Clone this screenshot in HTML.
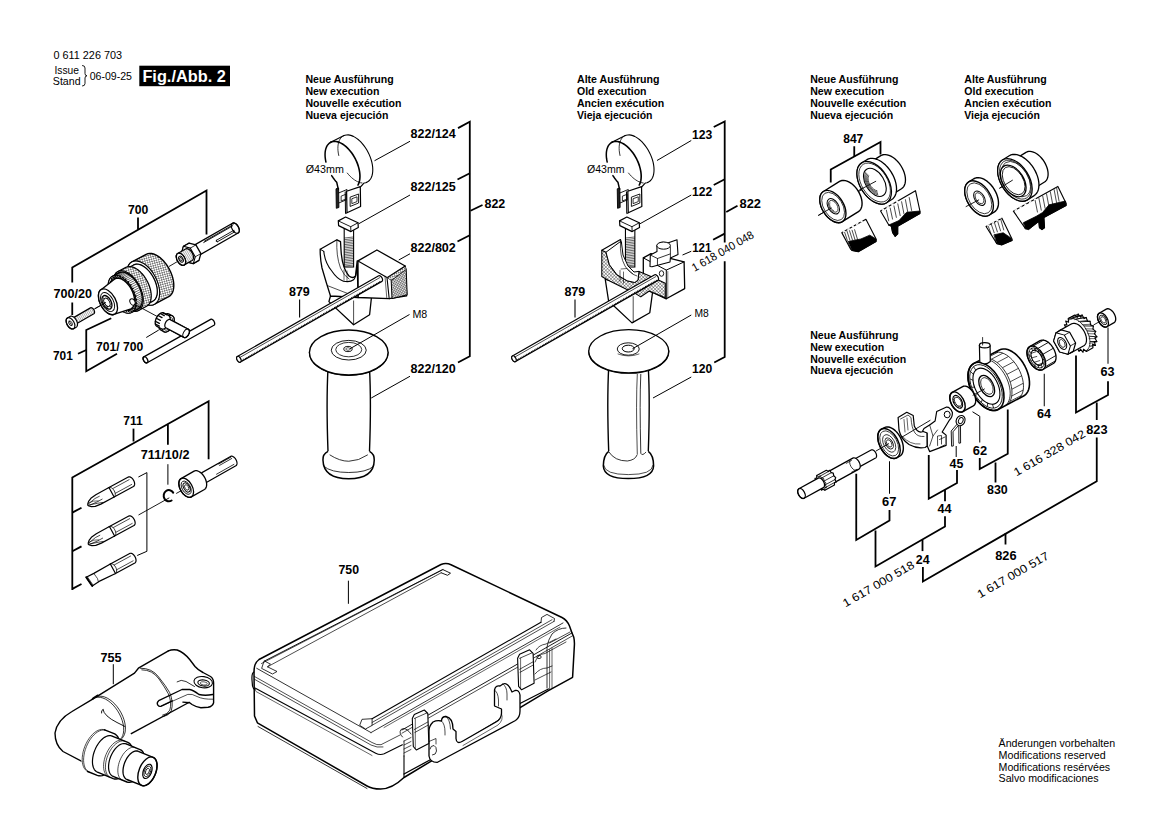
<!DOCTYPE html>
<html><head><meta charset="utf-8"><style>
html,body{margin:0;padding:0;background:#fff;}
svg{display:block;font-family:"Liberation Sans",sans-serif;}
</style></head><body>
<svg width="1168" height="826" viewBox="0 0 1168 826">
<rect width="1168" height="826" fill="#fff"/>
<defs>
<pattern id="knurl" width="3.2" height="3.2" patternUnits="userSpaceOnUse" patternTransform="rotate(30)">
<rect width="3.2" height="3.2" fill="#fff"/><path d="M0,0 L3.2,3.2 M3.2,0 L0,3.2" stroke="#000" stroke-width="0.42"/></pattern>
<pattern id="hatch" width="2.2" height="2.2" patternUnits="userSpaceOnUse" patternTransform="rotate(60)">
<rect width="2.2" height="2.2" fill="#fff"/><path d="M0,0 L0,2.2" stroke="#000" stroke-width="0.7"/></pattern>
<pattern id="xhatch" width="2.4" height="2.4" patternUnits="userSpaceOnUse" patternTransform="rotate(45)">
<rect width="2.4" height="2.4" fill="#fff"/><path d="M0,0 L0,2.4 M0,0 L2.4,0" stroke="#000" stroke-width="0.6"/></pattern>
<pattern id="thread" width="1.8" height="4" patternUnits="userSpaceOnUse" patternTransform="rotate(-30)">
<rect width="1.8" height="4" fill="#fff"/><path d="M0,0 L0,4" stroke="#000" stroke-width="0.6"/></pattern>
<pattern id="vhatch" width="2.0" height="2.0" patternUnits="userSpaceOnUse" patternTransform="rotate(30)"><rect width="2.0" height="2.0" fill="#fff"/><path d="M0,0 L0,2 M0,0 L2,0" stroke="#000" stroke-width="0.75"/></pattern>
</defs>
<path d="M74.37,324.99 L74.13,325.1 L73.87,325.15 L73.58,325.15 L73.28,325.09 L72.97,324.99 L72.66,324.83 L72.35,324.62 L72.04,324.38 L71.74,324.09 L71.46,323.76 L71.19,323.41 L70.96,323.04 L70.75,322.64 L70.58,322.24 L70.44,321.83 L70.34,321.43 L70.28,321.04 L70.26,320.67 L70.28,320.31 L70.34,319.99 L70.44,319.71 L70.58,319.46 L70.76,319.26 L70.97,319.11 L90.45,307.86 L90.69,307.75 L90.95,307.7 L91.23,307.7 L91.53,307.76 L91.84,307.86 L92.16,308.02 L92.47,308.23 L92.78,308.47 L93.08,308.76 L93.36,309.09 L93.62,309.44 L93.86,309.81 L94.07,310.21 L94.24,310.61 L94.38,311.02 L94.48,311.42 L94.54,311.81 L94.56,312.18 L94.54,312.54 L94.48,312.86 L94.37,313.14 L94.23,313.39 L94.06,313.59 L93.85,313.74 Z" fill="url(#thread)" stroke="#000" stroke-width="1.2" stroke-linejoin="round"/>
<path d="M73.6,328.67 L73.17,328.86 L72.69,328.95 L72.17,328.95 L71.63,328.85 L71.06,328.65 L70.49,328.37 L69.92,328.0 L69.35,327.54 L68.81,327.02 L68.29,326.43 L67.82,325.78 L67.39,325.1 L67.01,324.38 L66.69,323.65 L66.44,322.91 L66.25,322.17 L66.14,321.46 L66.11,320.77 L66.14,320.13 L66.26,319.55 L66.44,319.03 L66.7,318.58 L67.02,318.21 L67.4,317.93 L70.0,316.43 L70.43,316.24 L70.91,316.15 L71.43,316.15 L71.97,316.25 L72.53,316.45 L73.11,316.73 L73.68,317.1 L74.25,317.56 L74.79,318.08 L75.3,318.67 L75.78,319.32 L76.21,320.0 L76.59,320.72 L76.91,321.45 L77.16,322.19 L77.35,322.93 L77.46,323.64 L77.49,324.33 L77.45,324.97 L77.34,325.55 L77.15,326.07 L76.9,326.52 L76.58,326.89 L76.2,327.17 Z" fill="#fff" stroke="#000" stroke-width="1.2" stroke-linejoin="round"/>
<ellipse cx="70.5" cy="323.3" rx="3.6" ry="6.2" transform="rotate(-30 70.5 323.3)" fill="none" stroke="#000" stroke-width="1.2" />
<ellipse cx="70.5" cy="323.3" rx="1.51" ry="2.6" transform="rotate(-30 70.5 323.3)" fill="none" stroke="#000" stroke-width="0.8" />
<path d="M71.8,325.55 L69.2,321.05" stroke="#000" stroke-width="0.8" fill="none" stroke-linecap="round"/>
<path d="M94.5,308.9 L105,303" fill="none" stroke="#000" stroke-width="0.9" stroke-linejoin="miter" stroke-linecap="butt"/>
<path d="M154.59,304.21 L152.94,304.85 L151.13,305.12 L149.19,305.01 L147.14,304.53 L145.03,303.67 L142.89,302.47 L140.76,300.93 L138.67,299.08 L136.67,296.96 L134.77,294.6 L133.02,292.04 L131.45,289.33 L130.08,286.51 L128.94,283.63 L128.04,280.74 L127.41,277.89 L127.04,275.13 L126.96,272.5 L127.15,270.05 L127.63,267.82 L128.37,265.86 L129.36,264.19 L130.6,262.84 L132.05,261.83 L146.18,254.32 L147.82,253.68 L149.63,253.41 L151.58,253.52 L153.62,254.0 L155.73,254.86 L157.87,256.06 L160.0,257.6 L162.09,259.45 L164.1,261.57 L165.99,263.93 L167.74,266.49 L169.31,269.2 L170.68,272.02 L171.82,274.9 L172.72,277.79 L173.36,280.64 L173.72,283.4 L173.8,286.03 L173.61,288.48 L173.14,290.71 L172.4,292.67 L171.4,294.35 L170.16,295.7 L168.71,296.7 Z" fill="url(#knurl)" stroke="#000" stroke-width="1.4" stroke-linejoin="round"/>
<ellipse cx="143.32" cy="283.02" rx="13.44" ry="24" transform="rotate(-28 143.32 283.02)" fill="#fff" stroke="#000" stroke-width="1.1" />
<ellipse cx="143.32" cy="283.02" rx="11.48" ry="20.5" transform="rotate(-28 143.32 283.02)" fill="#fff" stroke="#000" stroke-width="0.8" />
<path d="M145.0,305.35 L143.59,305.9 L142.04,306.12 L140.38,306.03 L138.64,305.62 L136.84,304.89 L135.01,303.86 L133.19,302.54 L131.41,300.96 L129.69,299.15 L128.07,297.14 L126.58,294.95 L125.24,292.64 L124.07,290.23 L123.09,287.77 L122.32,285.3 L121.78,282.86 L121.47,280.5 L121.4,278.26 L121.57,276.17 L121.97,274.27 L122.6,272.59 L123.45,271.16 L124.51,270.0 L125.75,269.15 L133.69,264.92 L135.1,264.37 L136.65,264.14 L138.31,264.24 L140.05,264.65 L141.85,265.38 L143.68,266.41 L145.5,267.73 L147.28,269.3 L149.0,271.12 L150.62,273.13 L152.11,275.32 L153.45,277.63 L154.62,280.04 L155.6,282.5 L156.37,284.97 L156.91,287.4 L157.22,289.76 L157.29,292.01 L157.12,294.1 L156.72,296.0 L156.09,297.68 L155.24,299.11 L154.18,300.26 L152.94,301.12 Z" fill="#fff" stroke="#000" stroke-width="1.2" stroke-linejoin="round"/>
<path d="M138.64,310.43 L137.13,311.02 L135.47,311.26 L133.69,311.16 L131.81,310.72 L129.88,309.93 L127.92,308.83 L125.97,307.42 L124.05,305.72 L122.21,303.78 L120.47,301.62 L118.87,299.27 L117.43,296.79 L116.17,294.2 L115.13,291.56 L114.31,288.91 L113.72,286.3 L113.39,283.77 L113.31,281.36 L113.49,279.11 L113.92,277.07 L114.6,275.27 L115.52,273.74 L116.65,272.5 L117.98,271.58 L125.93,267.35 L127.43,266.76 L129.09,266.52 L130.87,266.62 L132.75,267.06 L134.68,267.85 L136.64,268.95 L138.6,270.36 L140.51,272.06 L142.35,274.0 L144.09,276.16 L145.69,278.51 L147.13,280.99 L148.39,283.58 L149.43,286.22 L150.26,288.87 L150.84,291.48 L151.17,294.01 L151.25,296.42 L151.07,298.67 L150.64,300.71 L149.96,302.51 L149.05,304.04 L147.91,305.28 L146.58,306.2 Z" fill="url(#knurl)" stroke="#000" stroke-width="1.2" stroke-linejoin="round"/>
<ellipse cx="128.31" cy="291.0" rx="12.32" ry="22" transform="rotate(-28 128.31 291.0)" fill="url(#knurl)" stroke="#000" stroke-width="1.1" />
<path d="M131.75,312.39 L130.35,312.94 L128.8,313.17 L127.14,313.07 L125.39,312.66 L123.59,311.93 L121.77,310.9 L119.94,309.58 L118.16,308.01 L116.45,306.19 L114.83,304.18 L113.33,301.99 L111.99,299.68 L110.82,297.27 L109.85,294.81 L109.08,292.34 L108.54,289.91 L108.23,287.55 L108.15,285.3 L108.32,283.21 L108.72,281.31 L109.36,279.63 L110.21,278.2 L111.26,277.05 L112.5,276.19 L118.68,272.9 L120.09,272.35 L121.64,272.12 L123.3,272.22 L125.04,272.63 L126.84,273.36 L128.67,274.39 L130.49,275.71 L132.27,277.28 L133.99,279.1 L135.61,281.11 L137.1,283.3 L138.44,285.61 L139.61,288.02 L140.59,290.48 L141.36,292.95 L141.9,295.38 L142.21,297.75 L142.28,299.99 L142.11,302.08 L141.71,303.98 L141.08,305.66 L140.23,307.09 L139.17,308.24 L137.93,309.1 Z" fill="#fff" stroke="#000" stroke-width="1.2" stroke-linejoin="round"/>
<ellipse cx="122.13" cy="294.29" rx="11.48" ry="20.5" transform="rotate(-28 122.13 294.29)" fill="#fff" stroke="#000" stroke-width="1.0" />
<path d="M130.01,309.12 L133.93,310.77 L131.57,307.88 L135.56,308.91 L132.71,306.04 L136.66,306.37 L133.39,303.69 L137.18,303.29 L133.58,300.93 L137.11,299.77 L133.26,297.88 L136.43,295.99 L132.46,294.67 L135.19,292.1 L131.21,291.45 L133.44,288.27 L129.56,288.35 L131.25,284.68 L127.59,285.5 L128.72,281.48 L125.38,283.05 L125.96,278.8 L123.02,281.08 L123.09,276.78 L120.63,279.69 L120.23,275.48 L118.3,278.94 L117.52,274.98 L116.14,278.86 L115.06,275.29 L114.24,279.45 L112.98,276.4 L112.69,280.7 L111.35,278.26 L111.54,282.53 L110.24,280.79 L110.86,284.88 L109.72,283.88 L110.68,287.65 L109.8,287.4 L110.99,290.7 L110.47,291.18 L111.79,293.91 L111.71,295.07 L113.04,297.13 L113.46,298.89 L114.69,300.23 L115.65,302.49 L116.66,303.07 L118.18,305.69 L118.88,305.53 L120.95,308.36 L121.23,307.5 L123.82,310.39 L123.63,308.89 L126.67,311.69 L125.95,309.64 L129.38,312.19 L128.11,309.72 L131.84,311.88 L130.01,309.12" stroke="#000" stroke-width="1.0" fill="none" stroke-linejoin="round" stroke-linecap="round"/>
<path d="M112.94,275.95 L118.68,272.9" stroke="#000" stroke-width="0.6" fill="none" stroke-linecap="round"/>
<path d="M114.06,275.49 L119.8,272.44" stroke="#000" stroke-width="0.6" fill="none" stroke-linecap="round"/>
<path d="M115.26,275.23 L121.0,272.18" stroke="#000" stroke-width="0.6" fill="none" stroke-linecap="round"/>
<path d="M116.55,275.17 L122.29,272.12" stroke="#000" stroke-width="0.6" fill="none" stroke-linecap="round"/>
<path d="M117.9,275.33 L123.64,272.27" stroke="#000" stroke-width="0.6" fill="none" stroke-linecap="round"/>
<path d="M119.3,275.68 L125.04,272.63" stroke="#000" stroke-width="0.6" fill="none" stroke-linecap="round"/>
<path d="M120.74,276.24 L126.48,273.19" stroke="#000" stroke-width="0.6" fill="none" stroke-linecap="round"/>
<path d="M122.2,277.0 L127.94,273.94" stroke="#000" stroke-width="0.6" fill="none" stroke-linecap="round"/>
<path d="M123.66,277.94 L129.4,274.89" stroke="#000" stroke-width="0.6" fill="none" stroke-linecap="round"/>
<path d="M125.11,279.05 L130.85,276.0" stroke="#000" stroke-width="0.6" fill="none" stroke-linecap="round"/>
<path d="M126.53,280.34 L132.27,277.28" stroke="#000" stroke-width="0.6" fill="none" stroke-linecap="round"/>
<path d="M127.91,281.77 L133.65,278.72" stroke="#000" stroke-width="0.6" fill="none" stroke-linecap="round"/>
<path d="M129.23,283.33 L134.97,280.28" stroke="#000" stroke-width="0.6" fill="none" stroke-linecap="round"/>
<path d="M130.48,285.02 L136.22,281.97" stroke="#000" stroke-width="0.6" fill="none" stroke-linecap="round"/>
<path d="M131.64,286.8 L137.38,283.75" stroke="#000" stroke-width="0.6" fill="none" stroke-linecap="round"/>
<path d="M132.7,288.66 L138.44,285.61" stroke="#000" stroke-width="0.6" fill="none" stroke-linecap="round"/>
<path d="M133.66,290.59 L139.39,287.53" stroke="#000" stroke-width="0.6" fill="none" stroke-linecap="round"/>
<path d="M134.48,292.55 L140.22,289.49" stroke="#000" stroke-width="0.6" fill="none" stroke-linecap="round"/>
<path d="M135.18,294.52 L140.92,291.47" stroke="#000" stroke-width="0.6" fill="none" stroke-linecap="round"/>
<path d="M135.74,296.49 L141.48,293.44" stroke="#000" stroke-width="0.6" fill="none" stroke-linecap="round"/>
<path d="M136.16,298.44 L141.9,295.38" stroke="#000" stroke-width="0.6" fill="none" stroke-linecap="round"/>
<path d="M136.43,300.33 L142.17,297.28" stroke="#000" stroke-width="0.6" fill="none" stroke-linecap="round"/>
<path d="M136.54,302.16 L142.28,299.11" stroke="#000" stroke-width="0.6" fill="none" stroke-linecap="round"/>
<path d="M136.5,303.9 L142.24,300.85" stroke="#000" stroke-width="0.6" fill="none" stroke-linecap="round"/>
<path d="M136.31,305.53 L142.05,302.48" stroke="#000" stroke-width="0.6" fill="none" stroke-linecap="round"/>
<path d="M135.97,307.03 L141.71,303.98" stroke="#000" stroke-width="0.6" fill="none" stroke-linecap="round"/>
<path d="M135.48,308.4 L141.22,305.35" stroke="#000" stroke-width="0.6" fill="none" stroke-linecap="round"/>
<path d="M134.85,309.6 L140.59,306.55" stroke="#000" stroke-width="0.6" fill="none" stroke-linecap="round"/>
<path d="M134.09,310.64 L139.83,307.59" stroke="#000" stroke-width="0.6" fill="none" stroke-linecap="round"/>
<path d="M133.2,311.49 L138.94,308.44" stroke="#000" stroke-width="0.6" fill="none" stroke-linecap="round"/>
<path d="M114.57,314.16 L113.61,314.54 L112.56,314.69 L111.42,314.63 L110.23,314.35 L109.0,313.85 L107.75,313.14 L106.51,312.25 L105.29,311.17 L104.12,309.93 L103.01,308.55 L101.99,307.06 L101.08,305.48 L100.28,303.84 L99.61,302.16 L99.09,300.47 L98.72,298.81 L98.51,297.19 L98.46,295.66 L98.57,294.23 L98.85,292.94 L99.28,291.79 L99.86,290.81 L100.58,290.02 L101.43,289.44 L115.03,278.81 L116.19,278.35 L117.48,278.16 L118.85,278.24 L120.3,278.59 L121.8,279.19 L123.31,280.04 L124.82,281.14 L126.3,282.44 L127.72,283.95 L129.06,285.62 L130.3,287.43 L131.42,289.35 L132.39,291.35 L133.19,293.39 L133.83,295.43 L134.28,297.45 L134.54,299.41 L134.6,301.27 L134.46,303.01 L134.12,304.58 L133.6,305.98 L132.89,307.16 L132.02,308.12 L130.99,308.83 Z" fill="#fff" stroke="#000" stroke-width="1.4" stroke-linejoin="round"/>
<ellipse cx="108.0" cy="301.8" rx="7.84" ry="14.0" transform="rotate(-28 108.0 301.8)" fill="#fff" stroke="#000" stroke-width="1.3" />
<ellipse cx="107.56" cy="302.03" rx="5.82" ry="10.4" transform="rotate(-28 107.56 302.03)" fill="none" stroke="#000" stroke-width="0.9" />
<ellipse cx="106.94" cy="302.36" rx="4.14" ry="7.4" transform="rotate(-28 106.94 302.36)" fill="none" stroke="#000" stroke-width="1.3" />
<ellipse cx="106.94" cy="302.36" rx="2.58" ry="4.6" transform="rotate(-28 106.94 302.36)" fill="none" stroke="#000" stroke-width="0.9" />
<path d="M104.13,298.96 L102.55,297.04" stroke="#000" stroke-width="0.8" fill="none" stroke-linecap="round"/>
<path d="M104.33,302.85 L102.85,303.12" stroke="#000" stroke-width="0.8" fill="none" stroke-linecap="round"/>
<path d="M107.13,306.25 L107.24,308.45" stroke="#000" stroke-width="0.8" fill="none" stroke-linecap="round"/>
<path d="M109.75,305.77 L111.33,307.69" stroke="#000" stroke-width="0.8" fill="none" stroke-linecap="round"/>
<ellipse cx="132.5" cy="302" rx="2.4" ry="3.4" fill="#fff" stroke="#000" stroke-width="1.0" transform="rotate(-28 132.5 302)"/>
<path d="M94.5,308.9 L106,302.4" fill="none" stroke="#000" stroke-width="0.9" stroke-linejoin="miter" stroke-linecap="butt"/>
<path d="M169,266.5 L180,260" fill="none" stroke="#000" stroke-width="0.9" stroke-linejoin="miter" stroke-linecap="butt"/>
<path d="M134,304 L161,318.5" fill="none" stroke="#000" stroke-width="0.9" stroke-linejoin="miter" stroke-linecap="butt"/>
<path d="M195.93,257.1 L195.54,257.27 L195.11,257.35 L194.64,257.35 L194.15,257.26 L193.64,257.08 L193.12,256.82 L192.61,256.48 L192.1,256.07 L191.61,255.59 L191.15,255.06 L190.72,254.48 L190.33,253.86 L189.99,253.21 L189.71,252.54 L189.48,251.87 L189.32,251.21 L189.22,250.56 L189.19,249.95 L189.22,249.37 L189.33,248.84 L189.5,248.37 L189.73,247.97 L190.02,247.64 L190.37,247.38 L232.54,223.23 L232.93,223.06 L233.36,222.98 L233.83,222.98 L234.32,223.07 L234.83,223.25 L235.35,223.51 L235.86,223.85 L236.37,224.26 L236.86,224.74 L237.32,225.27 L237.75,225.85 L238.14,226.48 L238.48,227.12 L238.76,227.79 L238.99,228.46 L239.15,229.12 L239.25,229.77 L239.28,230.38 L239.25,230.96 L239.14,231.49 L238.97,231.96 L238.74,232.37 L238.45,232.7 L238.11,232.95 Z" fill="#fff" stroke="#000" stroke-width="1.3" stroke-linejoin="round"/>
<ellipse cx="235.32" cy="228.09" rx="3.25" ry="5.6" transform="rotate(-29.8 235.32 228.09)" fill="none" stroke="#000" stroke-width="1.2" />
<path d="M204.48,241.16 L233.11,224.76" stroke="#000" stroke-width="0.9" fill="none" stroke-linejoin="round" stroke-linecap="round"/>
<path d="M203.71,242.51 L232.34,226.11" stroke="#000" stroke-width="0.9" fill="none" stroke-linejoin="round" stroke-linecap="round"/>
<path d="M217.44,241.73 L234.8,231.8 L233.76,230.35" stroke="#000" stroke-width="0.9" fill="none" stroke-linejoin="round" stroke-linecap="round"/>
<path d="M216.4,240.29 L233.76,230.35" stroke="#000" stroke-width="0.9" fill="none" stroke-linejoin="round" stroke-linecap="round"/>
<path d="M217.44,241.73 L216.23,241.41 L216.4,240.29" stroke="#000" stroke-width="0.9" fill="none" stroke-linejoin="round" stroke-linecap="round"/>
<path d="M181.53,253.13 L183.41,246.3 L189.05,243.07 L195.89,244.91 L200.86,253.59 L198.99,260.42 L193.35,263.65 L186.5,261.81 Z" fill="#fff" stroke="#000" stroke-width="1.3" stroke-linejoin="round"/>
<path d="M193.35,263.65 L195.22,256.82 L190.25,248.14 L183.41,246.3 L181.53,253.13 L186.5,261.81 Z" fill="#fff" stroke="#000" stroke-width="1.105" stroke-linejoin="round"/>
<path d="M193.35,263.65 L198.99,260.42" stroke="#000" stroke-width="0.8" fill="none" stroke-linecap="round"/>
<path d="M195.22,256.82 L200.86,253.59" stroke="#000" stroke-width="0.8" fill="none" stroke-linecap="round"/>
<path d="M190.25,248.14 L195.89,244.91" stroke="#000" stroke-width="0.8" fill="none" stroke-linecap="round"/>
<path d="M183.41,246.3 L189.05,243.07" stroke="#000" stroke-width="0.8" fill="none" stroke-linecap="round"/>
<path d="M184.28,264.93 L183.82,265.13 L183.31,265.22 L182.76,265.22 L182.18,265.11 L181.58,264.9 L180.97,264.59 L180.36,264.2 L179.76,263.71 L179.19,263.15 L178.64,262.52 L178.13,261.83 L177.68,261.1 L177.28,260.34 L176.94,259.56 L176.68,258.77 L176.48,257.98 L176.37,257.22 L176.33,256.5 L176.38,255.81 L176.5,255.19 L176.7,254.64 L176.97,254.16 L177.31,253.77 L177.72,253.47 L185.53,249.0 L185.99,248.8 L186.5,248.7 L187.05,248.71 L187.63,248.82 L188.23,249.03 L188.84,249.33 L189.45,249.73 L190.05,250.22 L190.62,250.78 L191.17,251.41 L191.68,252.09 L192.13,252.82 L192.53,253.59 L192.87,254.37 L193.13,255.16 L193.33,255.94 L193.44,256.7 L193.48,257.43 L193.43,258.11 L193.31,258.74 L193.11,259.29 L192.84,259.77 L192.5,260.16 L192.09,260.45 Z" fill="url(#thread)" stroke="#000" stroke-width="1.3" stroke-linejoin="round"/>
<ellipse cx="181.0" cy="259.2" rx="3.83" ry="6.6" transform="rotate(-29.8 181.0 259.2)" fill="none" stroke="#000" stroke-width="1.3" />
<ellipse cx="181.0" cy="259.2" rx="3.83" ry="6.6" transform="rotate(-29.8 181.0 259.2)" fill="#fff" stroke="#000" stroke-width="1.3" />
<ellipse cx="181.0" cy="259.2" rx="1.91" ry="3.3" transform="rotate(-29.8 181.0 259.2)" fill="none" stroke="#000" stroke-width="1.0" />
<ellipse cx="181.0" cy="259.2" rx="1.04" ry="1.8" transform="rotate(-29.8 181.0 259.2)" fill="none" stroke="#000" stroke-width="0.8" />
<path d="M147.16,362.76 L146.93,362.87 L146.66,362.91 L146.38,362.91 L146.08,362.85 L145.77,362.74 L145.46,362.58 L145.15,362.37 L144.84,362.12 L144.55,361.83 L144.27,361.5 L144.01,361.14 L143.78,360.77 L143.58,360.37 L143.41,359.97 L143.27,359.56 L143.18,359.15 L143.12,358.76 L143.11,358.39 L143.13,358.04 L143.2,357.72 L143.3,357.43 L143.45,357.19 L143.63,356.99 L143.84,356.84 L210.64,319.34 L210.87,319.23 L211.14,319.19 L211.42,319.19 L211.72,319.25 L212.03,319.36 L212.34,319.52 L212.65,319.73 L212.96,319.98 L213.25,320.27 L213.53,320.6 L213.79,320.96 L214.02,321.33 L214.22,321.73 L214.39,322.13 L214.53,322.54 L214.62,322.95 L214.68,323.34 L214.69,323.71 L214.67,324.06 L214.6,324.38 L214.5,324.67 L214.35,324.91 L214.17,325.11 L213.96,325.26 Z" fill="#fff" stroke="#000" stroke-width="1.3" stroke-linejoin="round"/>
<ellipse cx="145.5" cy="359.8" rx="1.97" ry="3.4" transform="rotate(-29.308862894474206 145.5 359.8)" fill="none" stroke="#000" stroke-width="1.3" />
<path d="M165.4,327.52 L165.12,327.32 L164.87,327.05 L164.67,326.73 L164.52,326.35 L164.42,325.92 L164.37,325.44 L164.38,324.93 L164.44,324.4 L164.56,323.85 L164.73,323.3 L164.95,322.74 L165.21,322.2 L165.51,321.68 L165.85,321.19 L166.21,320.74 L166.6,320.34 L167.01,319.99 L167.42,319.7 L167.84,319.47 L168.26,319.31 L168.66,319.22 L169.04,319.21 L169.4,319.27 L169.72,319.39 L188.27,329.25 L188.55,329.45 L188.8,329.72 L189.0,330.04 L189.15,330.42 L189.25,330.85 L189.3,331.33 L189.29,331.84 L189.23,332.37 L189.11,332.92 L188.94,333.47 L188.72,334.03 L188.46,334.57 L188.16,335.09 L187.82,335.58 L187.46,336.03 L187.07,336.43 L186.66,336.78 L186.24,337.07 L185.83,337.3 L185.41,337.46 L185.01,337.55 L184.63,337.56 L184.27,337.5 L183.95,337.38 Z" fill="#fff" stroke="#000" stroke-width="1.3" stroke-linejoin="round"/>
<ellipse cx="186.11" cy="333.31" rx="2.67" ry="4.6" transform="rotate(28 186.11 333.31)" fill="none" stroke="#000" stroke-width="0.9" />
<path d="M160.69,329.99 L160.12,329.61 L159.64,329.09 L159.25,328.45 L158.95,327.7 L158.76,326.86 L158.67,325.93 L158.69,324.94 L158.81,323.9 L159.04,322.82 L159.37,321.74 L159.79,320.65 L160.31,319.6 L160.9,318.58 L161.56,317.62 L162.27,316.74 L163.04,315.95 L163.83,315.27 L164.64,314.7 L165.46,314.25 L166.27,313.94 L167.05,313.77 L167.8,313.74 L168.5,313.85 L169.14,314.1 L172.23,315.74 L172.8,316.13 L173.28,316.65 L173.67,317.29 L173.97,318.03 L174.16,318.88 L174.25,319.8 L174.23,320.8 L174.11,321.84 L173.88,322.91 L173.55,324.0 L173.13,325.08 L172.61,326.14 L172.02,327.16 L171.36,328.11 L170.65,329.0 L169.88,329.79 L169.09,330.47 L168.28,331.04 L167.46,331.49 L166.65,331.8 L165.87,331.97 L165.12,332.0 L164.42,331.89 L163.78,331.64 Z" fill="#fff" stroke="#000" stroke-width="1.3" stroke-linejoin="round"/>
<ellipse cx="168.01" cy="323.69" rx="5.22" ry="9.0" transform="rotate(28 168.01 323.69)" fill="#fff" stroke="#000" stroke-width="1.2" />
<ellipse cx="168.01" cy="323.69" rx="4.06" ry="7.0" transform="rotate(28 168.01 323.69)" fill="none" stroke="#000" stroke-width="0.7" />
<path d="M156.93,326.41 L156.45,326.08 L156.05,325.65 L155.71,325.11 L155.46,324.48 L155.3,323.76 L155.22,322.98 L155.24,322.14 L155.35,321.26 L155.54,320.36 L155.82,319.44 L156.18,318.52 L156.61,317.63 L157.11,316.77 L157.66,315.96 L158.27,315.22 L158.91,314.55 L159.58,313.97 L160.27,313.49 L160.96,313.12 L161.64,312.85 L162.31,312.71 L162.94,312.68 L163.53,312.78 L164.07,312.99 L168.48,315.34 L168.96,315.66 L169.37,316.1 L169.7,316.64 L169.95,317.27 L170.11,317.98 L170.19,318.77 L170.17,319.6 L170.07,320.48 L169.88,321.39 L169.6,322.31 L169.24,323.22 L168.81,324.12 L168.31,324.97 L167.75,325.78 L167.15,326.53 L166.5,327.19 L165.83,327.77 L165.14,328.26 L164.45,328.63 L163.77,328.89 L163.11,329.04 L162.48,329.06 L161.89,328.97 L161.35,328.76 Z" fill="#fff" stroke="#000" stroke-width="1.3" stroke-linejoin="round"/>
<path d="M162.52,312.69 L166.49,314.8" stroke="#000" stroke-width="1.3" fill="none" stroke-linecap="round"/>
<path d="M160.27,313.49 L164.24,315.6" stroke="#000" stroke-width="1.3" fill="none" stroke-linecap="round"/>
<path d="M158.06,315.46 L162.04,317.57" stroke="#000" stroke-width="1.3" fill="none" stroke-linecap="round"/>
<path d="M156.31,318.22 L160.29,320.34" stroke="#000" stroke-width="1.3" fill="none" stroke-linecap="round"/>
<path d="M155.35,321.26 L159.32,323.38" stroke="#000" stroke-width="1.3" fill="none" stroke-linecap="round"/>
<path d="M155.34,324.01 L159.32,326.12" stroke="#000" stroke-width="1.3" fill="none" stroke-linecap="round"/>
<path d="M165.85,327.75 L165.56,327.55 L165.31,327.29 L165.11,326.96 L164.96,326.58 L164.86,326.15 L164.81,325.68 L164.82,325.17 L164.89,324.64 L165.0,324.09 L165.17,323.53 L165.39,322.98 L165.65,322.44 L165.95,321.92 L166.29,321.43 L166.66,320.98 L167.04,320.57 L167.45,320.22 L167.87,319.93 L168.28,319.71 L168.7,319.55 L169.1,319.46 L169.48,319.44 L169.84,319.5 L170.16,319.63 L188.27,329.25 L188.55,329.45 L188.8,329.72 L189.0,330.04 L189.15,330.42 L189.25,330.85 L189.3,331.33 L189.29,331.84 L189.23,332.37 L189.11,332.92 L188.94,333.47 L188.72,334.03 L188.46,334.57 L188.16,335.09 L187.82,335.58 L187.46,336.03 L187.07,336.43 L186.66,336.78 L186.24,337.07 L185.83,337.3 L185.41,337.46 L185.01,337.55 L184.63,337.56 L184.27,337.5 L183.95,337.38 Z" fill="#fff" stroke="#000" stroke-width="1.2" stroke-linejoin="round"/>
<ellipse cx="186.11" cy="333.31" rx="2.67" ry="4.6" transform="rotate(28 186.11 333.31)" fill="none" stroke="#000" stroke-width="0.9" />
<path d="M114.1,497.06 L113.72,497.22 L113.3,497.29 L112.86,497.27 L112.38,497.17 L111.9,496.99 L111.4,496.73 L110.91,496.39 L110.43,495.98 L109.97,495.51 L109.54,494.99 L109.14,494.42 L108.78,493.81 L108.46,493.18 L108.2,492.53 L108.0,491.88 L107.86,491.24 L107.78,490.61 L107.76,490.02 L107.81,489.46 L107.92,488.95 L108.09,488.5 L108.33,488.12 L108.61,487.81 L108.95,487.57 L128.29,477.07 L128.67,476.92 L129.09,476.85 L129.53,476.86 L130.01,476.96 L130.49,477.14 L130.99,477.41 L131.48,477.74 L131.96,478.15 L132.42,478.62 L132.85,479.15 L133.25,479.72 L133.61,480.32 L133.93,480.96 L134.19,481.6 L134.39,482.25 L134.53,482.9 L134.61,483.52 L134.63,484.12 L134.58,484.67 L134.47,485.18 L134.3,485.63 L134.06,486.02 L133.78,486.33 L133.44,486.56 Z" fill="#fff" stroke="#000" stroke-width="1.2" stroke-linejoin="round"/>
<path d="M115.45,493.26 L131.71,484.43" stroke="#000" stroke-width="0.7" fill="none" stroke-linecap="round"/>
<path d="M112.88,488.51 L129.13,479.68" stroke="#000" stroke-width="0.7" fill="none" stroke-linecap="round"/>
<path d="M108.95,487.57 L95.82,494.82 L90.88,498.29 L88.57,501.37 L87.75,503.86 L87.8,505.2 L88.9,505.97 L91.43,506.64 L95.27,506.38 L100.87,504.13 L114.1,497.06 Z" fill="#fff" stroke="#000" stroke-width="1.2" stroke-linejoin="round"/>
<path d="M88.47,503.92 L94.97,498.53 L99.35,496.3" stroke="#000" stroke-width="0.7" fill="none" stroke-linejoin="round" stroke-linecap="round"/>
<path d="M89.24,505.33 L96.87,502.05 L102.13,499.13" stroke="#000" stroke-width="0.7" fill="none" stroke-linejoin="round" stroke-linecap="round"/>
<path d="M88.82,504.99 L97.7,503.25 L102.78,502.44" stroke="#000" stroke-width="0.7" fill="none" stroke-linejoin="round" stroke-linecap="round"/>
<path d="M88.4,503.17 L93.44,501.11 L98.22,500.91" stroke="#000" stroke-width="0.6" fill="none" stroke-linejoin="round" stroke-linecap="round"/>
<path d="M108.95,487.57 L109.75,487.35 L110.67,487.46 L111.65,487.9 L112.62,488.65 L113.52,489.64 L114.28,490.82 L114.85,492.1 L115.2,493.4 L115.3,494.62 L115.14,495.68 L114.73,496.51 L114.1,497.06" stroke="#000" stroke-width="0.8" fill="none" stroke-linejoin="round" stroke-linecap="round"/>
<path d="M114.6,536.06 L114.22,536.22 L113.8,536.29 L113.36,536.27 L112.88,536.17 L112.4,535.99 L111.9,535.73 L111.41,535.39 L110.93,534.98 L110.47,534.51 L110.04,533.99 L109.64,533.42 L109.28,532.81 L108.96,532.18 L108.7,531.53 L108.5,530.88 L108.36,530.24 L108.28,529.61 L108.26,529.02 L108.31,528.46 L108.42,527.95 L108.59,527.5 L108.83,527.12 L109.11,526.81 L109.45,526.57 L128.79,516.07 L129.17,515.92 L129.59,515.85 L130.03,515.86 L130.51,515.96 L130.99,516.14 L131.49,516.41 L131.98,516.74 L132.46,517.15 L132.92,517.62 L133.35,518.15 L133.75,518.72 L134.11,519.32 L134.43,519.96 L134.69,520.6 L134.89,521.25 L135.03,521.9 L135.11,522.52 L135.13,523.12 L135.08,523.67 L134.97,524.18 L134.8,524.63 L134.56,525.02 L134.28,525.33 L133.94,525.56 Z" fill="#fff" stroke="#000" stroke-width="1.2" stroke-linejoin="round"/>
<path d="M115.95,532.26 L132.21,523.43" stroke="#000" stroke-width="0.7" fill="none" stroke-linecap="round"/>
<path d="M113.38,527.51 L129.63,518.68" stroke="#000" stroke-width="0.7" fill="none" stroke-linecap="round"/>
<path d="M109.45,526.57 L96.32,533.82 L91.38,537.29 L89.07,540.37 L88.25,542.86 L88.3,544.2 L89.4,544.97 L91.93,545.64 L95.77,545.38 L101.37,543.13 L114.6,536.06 Z" fill="#fff" stroke="#000" stroke-width="1.2" stroke-linejoin="round"/>
<path d="M88.97,542.92 L95.47,537.53 L99.85,535.3" stroke="#000" stroke-width="0.7" fill="none" stroke-linejoin="round" stroke-linecap="round"/>
<path d="M89.74,544.33 L97.37,541.05 L102.63,538.13" stroke="#000" stroke-width="0.7" fill="none" stroke-linejoin="round" stroke-linecap="round"/>
<path d="M89.32,543.99 L98.2,542.25 L103.28,541.44" stroke="#000" stroke-width="0.7" fill="none" stroke-linejoin="round" stroke-linecap="round"/>
<path d="M88.9,542.17 L93.94,540.11 L98.72,539.91" stroke="#000" stroke-width="0.6" fill="none" stroke-linejoin="round" stroke-linecap="round"/>
<path d="M109.45,526.57 L110.25,526.35 L111.17,526.46 L112.15,526.9 L113.12,527.65 L114.02,528.64 L114.78,529.82 L115.35,531.1 L115.7,532.4 L115.8,533.62 L115.64,534.68 L115.23,535.51 L114.6,536.06" stroke="#000" stroke-width="0.8" fill="none" stroke-linejoin="round" stroke-linecap="round"/>
<path d="M115.5,573.46 L115.12,573.62 L114.7,573.69 L114.26,573.67 L113.78,573.57 L113.3,573.39 L112.8,573.13 L112.31,572.79 L111.83,572.38 L111.37,571.91 L110.94,571.39 L110.54,570.82 L110.18,570.21 L109.86,569.58 L109.6,568.93 L109.4,568.28 L109.26,567.64 L109.18,567.01 L109.16,566.42 L109.21,565.86 L109.32,565.35 L109.49,564.9 L109.73,564.52 L110.01,564.21 L110.35,563.97 L129.69,553.47 L130.07,553.32 L130.49,553.25 L130.93,553.26 L131.41,553.36 L131.89,553.54 L132.39,553.81 L132.88,554.14 L133.36,554.55 L133.82,555.02 L134.25,555.55 L134.65,556.12 L135.01,556.72 L135.33,557.36 L135.59,558.0 L135.79,558.65 L135.93,559.3 L136.01,559.92 L136.03,560.52 L135.98,561.07 L135.87,561.58 L135.7,562.03 L135.46,562.42 L135.18,562.73 L134.84,562.96 Z" fill="#fff" stroke="#000" stroke-width="1.2" stroke-linejoin="round"/>
<path d="M116.85,569.66 L133.11,560.83" stroke="#000" stroke-width="0.7" fill="none" stroke-linecap="round"/>
<path d="M114.28,564.91 L130.53,556.08" stroke="#000" stroke-width="0.7" fill="none" stroke-linecap="round"/>
<path d="M110.35,563.97 L93.84,573.39 L86.18,577.19 L92.22,586.01 L100.18,580.87 L115.5,573.46 Z" fill="#fff" stroke="#000" stroke-width="1.2" stroke-linejoin="round"/>
<path d="M86.18,577.19 L92.22,586.01" stroke="#000" stroke-width="1.8" fill="none" stroke-linejoin="round" stroke-linecap="round"/>
<path d="M87.46,576.94 L93.05,585.11" stroke="#000" stroke-width="0.7" fill="none" stroke-linejoin="round" stroke-linecap="round"/>
<path d="M93.84,573.39 L95.81,576.19 L97.48,578.53 L98.43,581.83" stroke="#000" stroke-width="0.7" fill="none" stroke-linejoin="round" stroke-linecap="round"/>
<path d="M110.35,563.97 L111.15,563.75 L112.07,563.86 L113.05,564.3 L114.02,565.05 L114.92,566.04 L115.68,567.22 L116.25,568.5 L116.6,569.8 L116.7,571.02 L116.54,572.08 L116.13,572.91 L115.5,573.46" stroke="#000" stroke-width="0.8" fill="none" stroke-linejoin="round" stroke-linecap="round"/>
<path d="M138.5,515 L169.3,497.8" fill="none" stroke="#000" stroke-width="0.9" stroke-linejoin="miter" stroke-linecap="butt"/>
<path d="M176.2,493.5 L186.6,487.7" fill="none" stroke="#000" stroke-width="0.9" stroke-linejoin="miter" stroke-linecap="butt"/>
<path d="M173.2,492.6 A5.2,5.6 0 1 0 171.6,500.5" fill="none" stroke="#000" stroke-width="2.0" stroke-linejoin="round" stroke-linecap="round" />
<path d="M201.04,485.51 L200.67,485.67 L200.25,485.75 L199.8,485.74 L199.32,485.65 L198.84,485.47 L198.34,485.22 L197.84,484.89 L197.35,484.49 L196.88,484.03 L196.44,483.51 L196.03,482.95 L195.66,482.35 L195.34,481.72 L195.06,481.08 L194.85,480.43 L194.69,479.79 L194.6,479.17 L194.58,478.57 L194.62,478.02 L194.72,477.51 L194.89,477.05 L195.11,476.67 L195.39,476.35 L195.73,476.11 L230.54,456.41 L230.92,456.25 L231.34,456.17 L231.79,456.18 L232.26,456.27 L232.75,456.44 L233.25,456.7 L233.74,457.02 L234.23,457.42 L234.7,457.89 L235.14,458.4 L235.55,458.97 L235.93,459.57 L236.25,460.19 L236.52,460.84 L236.74,461.48 L236.89,462.12 L236.98,462.75 L237.01,463.34 L236.97,463.9 L236.87,464.41 L236.7,464.86 L236.47,465.25 L236.19,465.57 L235.86,465.81 Z" fill="#fff" stroke="#000" stroke-width="1.2" stroke-linejoin="round"/>
<path d="M216.5,474.24 L233.9,464.39" stroke="#000" stroke-width="0.8" fill="none" stroke-linecap="round"/>
<path d="M219.54,465.39 L231.72,458.5" stroke="#000" stroke-width="0.8" fill="none" stroke-linecap="round"/>
<path d="M218.75,464.0 L230.93,457.11" stroke="#000" stroke-width="0.8" fill="none" stroke-linecap="round"/>
<path d="M191.37,496.84 L190.63,497.15 L189.82,497.3 L188.95,497.29 L188.03,497.11 L187.08,496.78 L186.11,496.28 L185.14,495.64 L184.19,494.87 L183.28,493.97 L182.42,492.96 L181.62,491.87 L180.9,490.7 L180.27,489.48 L179.74,488.23 L179.32,486.97 L179.02,485.73 L178.85,484.52 L178.8,483.36 L178.87,482.28 L179.07,481.29 L179.39,480.4 L179.83,479.65 L180.38,479.03 L181.03,478.56 L194.08,471.17 L194.82,470.86 L195.63,470.71 L196.51,470.72 L197.43,470.9 L198.38,471.24 L199.35,471.73 L200.31,472.37 L201.26,473.15 L202.17,474.05 L203.04,475.05 L203.84,476.15 L204.56,477.31 L205.19,478.53 L205.71,479.78 L206.13,481.04 L206.43,482.29 L206.61,483.5 L206.66,484.66 L206.58,485.74 L206.38,486.73 L206.06,487.61 L205.62,488.36 L205.07,488.98 L204.43,489.45 Z" fill="#fff" stroke="#000" stroke-width="1.3" stroke-linejoin="round"/>
<ellipse cx="186.2" cy="487.7" rx="6.09" ry="10.5" transform="rotate(-29.5 186.2 487.7)" fill="none" stroke="#000" stroke-width="1.3" />
<ellipse cx="186.2" cy="487.7" rx="4.18" ry="7.2" transform="rotate(-29.5 186.2 487.7)" fill="none" stroke="#000" stroke-width="0.8" />
<ellipse cx="186.64" cy="487.45" rx="2.9" ry="5.0" transform="rotate(-29.5 186.64 487.45)" fill="none" stroke="#000" stroke-width="1.0" />
<ellipse cx="186.64" cy="487.45" rx="1.74" ry="3.0" transform="rotate(-29.5 186.64 487.45)" fill="none" stroke="#000" stroke-width="0.7" />
<path d="M72,712 L93.1,698.8 L168.4,650.8 L178,650.2 L189.7,659.5 L197.2,669.1 L212.7,678.1 L213.6,683 L213.6,702.7 L208.1,707.2 L200.9,707.7 L189.7,702 L130.8,733.9 L118.5,730.7 Z" fill="#fff" stroke="none"/>
<path d="M168.4,650.8 Q172,649.3 177.2,650 Q184,652.5 189.7,659.5 L195,666.5 Q198,670 203,672.5 L210.5,676.5 Q213.6,678.5 213.6,683 L213.6,702.7 Q212.5,706.5 208.1,707.2 L200.9,707.7 Q196,707 192,704.5 L189.7,702.8 L182.9,702.1" fill="none" stroke="#000" stroke-width="1.4" stroke-linejoin="round" stroke-linecap="round" />
<ellipse cx="203.2" cy="682.2" rx="9.3" ry="5.6" fill="#fff" stroke="#000" stroke-width="1.1" transform="rotate(8 203.2 682.2)"/>
<ellipse cx="203.6" cy="683.0" rx="5.8" ry="3.0" fill="none" stroke="#000" stroke-width="1.1" transform="rotate(8 203.6 683.0)"/>
<ellipse cx="203.8" cy="683.4" rx="3.6" ry="1.6" fill="none" stroke="#000" stroke-width="0.6" transform="rotate(8 203.8 683.4)"/>
<path d="M177.1,681.8 Q181,679 186,681.5 L194.5,686.5" fill="none" stroke="#000" stroke-width="0.8" stroke-linejoin="round" stroke-linecap="round" />
<path d="M212.7,694.5 Q205,696 199,694.5 Q193,690 189.7,689.5 L182,689.5 L158.7,700.7 Q156.3,702.6 157.8,705.2 Q159.2,707 161.2,706.2 L172.2,700.8" fill="none" stroke="#000" stroke-width="1.3" stroke-linejoin="round" stroke-linecap="round" />
<path d="M161.2,706.2 L187.8,694.4 Q192,693.5 197,696.5 Q203,699.5 212.7,699.2" fill="none" stroke="#000" stroke-width="0.7" stroke-linejoin="round" stroke-linecap="round" />
<path d="M93.1,698.8 L134.5,673.1 L138.4,668.2 L168.4,650.8" fill="none" stroke="#000" stroke-width="1.4" stroke-linejoin="round" stroke-linecap="round" />
<path d="M189.7,702.0 L130.8,733.9" fill="none" stroke="#000" stroke-width="1.4" stroke-linejoin="miter" stroke-linecap="butt"/>
<path d="M93.83,698.38 L95.8,697.54 L98.0,697.19 L100.4,697.35 L102.92,698.0 L105.52,699.13 L108.13,700.73 L110.71,702.74 L113.18,705.13 L115.5,707.85 L117.61,710.83 L119.46,714.0 L121.02,717.29 L122.25,720.64 L123.11,723.95 L123.6,727.17 L123.7,730.22 L123.41,733.02 L122.73,735.52 L121.68,737.66 L120.28,739.39" stroke="#000" stroke-width="0.8" fill="none" stroke-linejoin="round" stroke-linecap="round"/>
<path d="M95.55,697.37 L97.52,696.53 L99.73,696.18 L102.12,696.33 L104.64,696.98 L107.24,698.12 L109.86,699.71 L112.43,701.73 L114.9,704.12 L117.22,706.83 L119.33,709.81 L121.19,712.98 L122.74,716.28 L123.97,719.62 L124.84,722.94 L125.33,726.16 L125.42,729.2 L125.13,732.01 L124.45,734.51 L123.4,736.65 L122.0,738.38" stroke="#000" stroke-width="0.8" fill="none" stroke-linejoin="round" stroke-linecap="round"/>
<path d="M92.1,699.4 L93.42,697.69 L97.73,695.16" stroke="#000" stroke-width="1.3" fill="none" stroke-linejoin="round" stroke-linecap="round"/>
<path d="M140.3,668.2 Q152,668 158.7,677 Q166,686 169.6,692.5 Q173.8,702 171.3,710.8 Q169,715.5 163.6,716.6" fill="none" stroke="#000" stroke-width="0.8" stroke-linejoin="round" stroke-linecap="round" />
<path d="M141.8,669.8 Q152.5,669.8 159,679 Q165,687.5 168.2,693.5 Q172.2,702.5 169.8,710.2 Q167.6,714.3 162.6,715.2" fill="none" stroke="#000" stroke-width="0.8" stroke-linejoin="round" stroke-linecap="round" />
<path d="M93.1,698.8 L72,711.5 Q57,720 55,733 Q55,745 63,751.5 L95.5,768.5" fill="none" stroke="#000" stroke-width="1.4" stroke-linejoin="round" stroke-linecap="round" />
<path d="M101.5,713 Q101,710 103,709.5 M103,709.5 Q104,716 117,722.5 L125,726.5" fill="none" stroke="#000" stroke-width="0.9" stroke-linejoin="round" stroke-linecap="round" />
<path d="M87.08,771.26 L85.65,770.48 L84.4,769.35 L83.33,767.9 L82.47,766.15 L81.84,764.13 L81.44,761.87 L81.27,759.42 L81.36,756.81 L81.68,754.1 L82.24,751.32 L83.03,748.53 L84.03,745.76 L85.23,743.08 L86.61,740.52 L88.13,738.13 L89.79,735.95 L91.54,734.02 L93.36,732.37 L95.21,731.03 L97.07,730.01 L98.9,729.35 L100.68,729.05 L102.37,729.11 L103.94,729.54 L114.14,733.66 L115.56,734.44 L116.82,735.57 L117.89,737.02 L118.74,738.77 L119.38,740.79 L119.78,743.05 L119.94,745.5 L119.86,748.1 L119.53,750.82 L118.97,753.6 L118.18,756.39 L117.18,759.15 L115.98,761.84 L114.61,764.4 L113.08,766.79 L111.43,768.96 L109.68,770.9 L107.86,772.55 L106.01,773.89 L104.15,774.9 L102.31,775.57 L100.54,775.87 L98.85,775.81 L97.28,775.38 Z" fill="#fff" stroke="none"/>
<path d="M87.08,771.26 L97.28,775.38 L98.85,775.81 L100.54,775.87 L102.31,775.57 L104.15,774.9 L106.01,773.89 L107.86,772.55 L109.68,770.9 L111.43,768.96 L113.08,766.79 L114.61,764.4 L115.98,761.84 L117.18,759.15 L118.18,756.39 L118.97,753.6 L119.53,750.82 L119.86,748.1 L119.94,745.5 L119.78,743.05 L119.38,740.79 L118.74,738.77 L117.89,737.02 L116.82,735.57 L115.56,734.44 L114.14,733.66 L103.94,729.54" fill="none" stroke="#000" stroke-width="1.4" stroke-linejoin="round"/>
<path d="M104.86,729.91 L103.29,729.48 L101.61,729.42 L99.83,729.73 L98.0,730.39 L96.14,731.4 L94.28,732.74 L92.46,734.4 L90.71,736.33 L89.06,738.51 L87.53,740.9 L86.16,743.45 L84.96,746.14 L83.96,748.9 L83.17,751.69 L82.61,754.47 L82.28,757.19 L82.2,759.79 L82.36,762.25 L82.76,764.5 L83.4,766.52 L84.26,768.27 L85.32,769.72 L86.58,770.85 L88.01,771.63" stroke="#000" stroke-width="0.7" fill="none" stroke-linejoin="round" stroke-linecap="round"/>
<path d="M106.26,730.47 L104.69,730.05 L103.0,729.98 L101.22,730.29 L99.39,730.95 L97.53,731.96 L95.67,733.31 L93.85,734.96 L92.1,736.89 L90.45,739.07 L88.93,741.46 L87.55,744.02 L86.35,746.7 L85.35,749.46 L84.56,752.26 L84.0,755.04 L83.68,757.75 L83.59,760.36 L83.75,762.81 L84.15,765.06 L84.79,767.08 L85.65,768.83 L86.72,770.29 L87.97,771.41 L89.4,772.2" stroke="#000" stroke-width="0.7" fill="none" stroke-linejoin="round" stroke-linecap="round"/>
<path d="M97.48,772.22 L96.24,771.55 L95.15,770.57 L94.23,769.31 L93.48,767.79 L92.93,766.04 L92.58,764.09 L92.44,761.96 L92.52,759.71 L92.8,757.35 L93.28,754.94 L93.97,752.52 L94.84,750.13 L95.88,747.8 L97.07,745.58 L98.39,743.51 L99.82,741.63 L101.34,739.95 L102.91,738.52 L104.52,737.35 L106.13,736.48 L107.72,735.9 L109.26,735.64 L110.72,735.69 L112.09,736.06 L127.85,742.43 L129.08,743.11 L130.17,744.09 L131.1,745.35 L131.84,746.86 L132.39,748.61 L132.74,750.57 L132.88,752.69 L132.81,754.95 L132.53,757.31 L132.04,759.71 L131.36,762.14 L130.49,764.53 L129.45,766.86 L128.26,769.07 L126.93,771.14 L125.5,773.03 L123.98,774.71 L122.41,776.14 L120.8,777.3 L119.19,778.18 L117.6,778.75 L116.06,779.02 L114.6,778.96 L113.24,778.59 Z" fill="#fff" stroke="none"/>
<path d="M97.48,772.22 L113.24,778.59 L114.6,778.96 L116.06,779.02 L117.6,778.75 L119.19,778.18 L120.8,777.3 L122.41,776.14 L123.98,774.71 L125.5,773.03 L126.93,771.14 L128.26,769.07 L129.45,766.86 L130.49,764.53 L131.36,762.14 L132.04,759.71 L132.53,757.31 L132.81,754.95 L132.88,752.69 L132.74,750.57 L132.39,748.61 L131.84,746.86 L131.1,745.35 L130.17,744.09 L129.08,743.11 L127.85,742.43 L112.09,736.06" fill="none" stroke="#000" stroke-width="1.4" stroke-linejoin="round"/>
<path d="M112.09,736.06 L110.72,735.69 L109.26,735.64 L107.72,735.9 L106.13,736.48 L104.52,737.35 L102.91,738.52 L101.34,739.95 L99.82,741.63 L98.39,743.51 L97.07,745.58 L95.88,747.8 L94.84,750.13 L93.97,752.52 L93.28,754.94 L92.8,757.35 L92.52,759.71 L92.44,761.96 L92.58,764.09 L92.93,766.04 L93.48,767.79 L94.23,769.31 L95.15,770.57 L96.24,771.55 L97.48,772.22" stroke="#000" stroke-width="1.2" fill="none" stroke-linejoin="round" stroke-linecap="round"/>
<path d="M123.21,740.56 L121.85,740.19 L120.39,740.14 L118.85,740.4 L117.26,740.97 L115.65,741.85 L114.04,743.01 L112.46,744.45 L110.95,746.12 L109.52,748.01 L108.19,750.08 L107.0,752.3 L105.96,754.62 L105.09,757.02 L104.41,759.44 L103.92,761.85 L103.64,764.2 L103.57,766.46 L103.71,768.58 L104.06,770.54 L104.61,772.29 L105.35,773.81 L106.28,775.06 L107.37,776.04 L108.6,776.72" stroke="#000" stroke-width="0.7" fill="none" stroke-linejoin="round" stroke-linecap="round"/>
<path d="M125.07,741.31 L123.71,740.94 L122.24,740.89 L120.7,741.15 L119.12,741.72 L117.5,742.6 L115.89,743.76 L114.32,745.2 L112.8,746.87 L111.37,748.76 L110.05,750.83 L108.86,753.05 L107.82,755.37 L106.95,757.77 L106.27,760.19 L105.78,762.6 L105.5,764.95 L105.43,767.21 L105.56,769.33 L105.91,771.29 L106.46,773.04 L107.21,774.56 L108.13,775.81 L109.22,776.79 L110.46,777.47" stroke="#000" stroke-width="0.7" fill="none" stroke-linejoin="round" stroke-linecap="round"/>
<path d="M113.06,776.36 L111.95,775.75 L110.97,774.88 L110.14,773.75 L109.48,772.39 L108.98,770.82 L108.67,769.06 L108.54,767.16 L108.61,765.13 L108.86,763.02 L109.3,760.85 L109.91,758.68 L110.69,756.53 L111.62,754.45 L112.69,752.46 L113.88,750.6 L115.16,748.9 L116.53,747.4 L117.94,746.12 L119.38,745.07 L120.83,744.28 L122.26,743.77 L123.64,743.53 L124.95,743.58 L126.17,743.91 L140.08,749.53 L141.19,750.14 L142.17,751.02 L142.99,752.15 L143.66,753.51 L144.16,755.08 L144.47,756.83 L144.59,758.74 L144.53,760.77 L144.28,762.88 L143.84,765.04 L143.23,767.21 L142.45,769.36 L141.52,771.45 L140.45,773.44 L139.26,775.3 L137.97,776.99 L136.61,778.5 L135.2,779.78 L133.76,780.82 L132.31,781.61 L130.88,782.13 L129.5,782.36 L128.19,782.31 L126.97,781.98 Z" fill="#fff" stroke="none"/>
<path d="M113.06,776.36 L126.97,781.98 L128.19,782.31 L129.5,782.36 L130.88,782.13 L132.31,781.61 L133.76,780.82 L135.2,779.78 L136.61,778.5 L137.97,776.99 L139.26,775.3 L140.45,773.44 L141.52,771.45 L142.45,769.36 L143.23,767.21 L143.84,765.04 L144.28,762.88 L144.53,760.77 L144.59,758.74 L144.47,756.83 L144.16,755.08 L143.66,753.51 L142.99,752.15 L142.17,751.02 L141.19,750.14 L140.08,749.53 L126.17,743.91" fill="none" stroke="#000" stroke-width="1.4" stroke-linejoin="round"/>
<path d="M126.17,743.91 L124.95,743.58 L123.64,743.53 L122.26,743.77 L120.83,744.28 L119.38,745.07 L117.94,746.12 L116.53,747.4 L115.16,748.9 L113.88,750.6 L112.69,752.46 L111.62,754.45 L110.69,756.53 L109.91,758.68 L109.3,760.85 L108.86,763.02 L108.61,765.13 L108.54,767.16 L108.67,769.06 L108.98,770.82 L109.48,772.39 L110.14,773.75 L110.97,774.88 L111.95,775.75 L113.06,776.36" stroke="#000" stroke-width="1.2" fill="none" stroke-linejoin="round" stroke-linecap="round"/>
<path d="M135.44,747.66 L134.22,747.33 L132.91,747.28 L131.53,747.51 L130.1,748.03 L128.66,748.82 L127.21,749.86 L125.8,751.15 L124.44,752.65 L123.15,754.34 L121.96,756.2 L120.9,758.19 L119.96,760.28 L119.18,762.43 L118.57,764.6 L118.13,766.76 L117.88,768.87 L117.82,770.9 L117.94,772.81 L118.25,774.56 L118.75,776.13 L119.42,777.5 L120.25,778.62 L121.22,779.5 L122.33,780.11" stroke="#000" stroke-width="0.7" fill="none" stroke-linejoin="round" stroke-linecap="round"/>
<path d="M126.9,779.48 L125.94,778.95 L125.09,778.19 L124.37,777.2 L123.79,776.02 L123.36,774.66 L123.09,773.13 L122.98,771.48 L123.04,769.72 L123.26,767.88 L123.64,766.01 L124.17,764.12 L124.84,762.25 L125.65,760.44 L126.58,758.71 L127.61,757.1 L128.73,755.62 L129.91,754.32 L131.14,753.2 L132.39,752.3 L133.65,751.61 L134.89,751.16 L136.09,750.96 L137.23,751.0 L138.29,751.29 L153.13,757.28 L154.09,757.81 L154.94,758.57 L155.66,759.55 L156.24,760.74 L156.67,762.1 L156.94,763.63 L157.05,765.28 L156.99,767.04 L156.77,768.88 L156.39,770.75 L155.86,772.64 L155.18,774.51 L154.37,776.32 L153.44,778.05 L152.41,779.66 L151.3,781.14 L150.11,782.44 L148.89,783.56 L147.63,784.46 L146.38,785.15 L145.14,785.6 L143.94,785.8 L142.8,785.76 L141.74,785.47 Z" fill="#fff" stroke="none"/>
<path d="M126.9,779.48 L141.74,785.47 L142.8,785.76 L143.94,785.8 L145.14,785.6 L146.38,785.15 L147.63,784.46 L148.89,783.56 L150.11,782.44 L151.3,781.14 L152.41,779.66 L153.44,778.05 L154.37,776.32 L155.18,774.51 L155.86,772.64 L156.39,770.75 L156.77,768.88 L156.99,767.04 L157.05,765.28 L156.94,763.63 L156.67,762.1 L156.24,760.74 L155.66,759.55 L154.94,758.57 L154.09,757.81 L153.13,757.28 L138.29,751.29" fill="none" stroke="#000" stroke-width="1.4" stroke-linejoin="round"/>
<path d="M138.29,751.29 L137.23,751.0 L136.09,750.96 L134.89,751.16 L133.65,751.61 L132.39,752.3 L131.14,753.2 L129.91,754.32 L128.73,755.62 L127.61,757.1 L126.58,758.71 L125.65,760.44 L124.84,762.25 L124.17,764.12 L123.64,766.01 L123.26,767.88 L123.04,769.72 L122.98,771.48 L123.09,773.13 L123.36,774.66 L123.79,776.02 L124.37,777.2 L125.09,778.19 L125.94,778.95 L126.9,779.48" stroke="#000" stroke-width="1.3" fill="none" stroke-linejoin="round" stroke-linecap="round"/>
<ellipse cx="147.43" cy="771.38" rx="8.36" ry="15.2" transform="rotate(22 147.43 771.38)" fill="none" stroke="#000" stroke-width="1.4" />
<ellipse cx="147.43" cy="771.38" rx="4.12" ry="7.5" transform="rotate(22 147.43 771.38)" fill="none" stroke="#000" stroke-width="1.2" />
<ellipse cx="147.43" cy="771.38" rx="3.03" ry="5.5" transform="rotate(22 147.43 771.38)" fill="none" stroke="#000" stroke-width="0.8" />
<ellipse cx="147.43" cy="771.38" rx="1.76" ry="3.2" transform="rotate(22 147.43 771.38)" fill="none" stroke="#000" stroke-width="0.8" />
<path d="M257.4,722.8 L254.5,716 L254,672 Q254,663 259,659.5 L441,564.5 Q446,562.5 451,564.7 L562,617.5 Q567,620 569.5,626 Q571.5,632 573.8,637.4 Q574.6,641 574.4,645 L572.6,677.3 L548.4,690.6 L404,777.5 Q392,789 380.6,789 Q372,789 367,786 Z" fill="#fff" stroke="#000" stroke-width="1.5" stroke-linejoin="round"/>
<path d="M261.5,663.5 L443,569.6" fill="none" stroke="#000" stroke-width="0.7" stroke-linejoin="round" stroke-linecap="round" />
<path d="M264.5,661.0 L442.7,569.5 L450.5,573.2 L447.5,575.3 L441.2,572.8" fill="none" stroke="#000" stroke-width="0.9" stroke-linejoin="round" stroke-linecap="round" />
<path d="M267.5,666.8 L441.2,572.8" fill="none" stroke="#000" stroke-width="0.7" stroke-linejoin="round" stroke-linecap="round" />
<path d="M264.5,661.0 L270.5,664.2 L267.5,666.8 L277,671.5 L272.5,674 L262,668.6 Z" fill="none" stroke="#000" stroke-width="0.8" stroke-linejoin="round" stroke-linecap="round" />
<path d="M372.1,718.66 L541,622.22" fill="none" stroke="#000" stroke-width="1.1" stroke-linejoin="round" stroke-linecap="round" />
<path d="M372.1,722.46 L552,619.74" fill="none" stroke="#000" stroke-width="0.7" stroke-linejoin="round" stroke-linecap="round" />
<path d="M372.1,725.26 L554,621.4" fill="none" stroke="#000" stroke-width="0.7" stroke-linejoin="round" stroke-linecap="round" />
<path d="M362.4,719.3 L372.1,718.7 L372.1,725.4 L365.5,729 L360,725.5 Z" fill="none" stroke="#000" stroke-width="0.8" stroke-linejoin="round" stroke-linecap="round" />
<path d="M541,622.2 L541.5,617.5 L547,614.4 L554.5,618.5 L554,621.5" fill="none" stroke="#000" stroke-width="0.8" stroke-linejoin="round" stroke-linecap="round" />
<path d="M256.7,668.3 L371,732.6" fill="none" stroke="#000" stroke-width="0.8" stroke-linejoin="round" stroke-linecap="round" />
<path d="M371,732.59 L563,622.96" fill="none" stroke="#000" stroke-width="0.8" stroke-linejoin="round" stroke-linecap="round" />
<path d="M384,727.57 L560,627.07" fill="none" stroke="#000" stroke-width="0.6" stroke-linejoin="round" stroke-linecap="round" />
<path d="M254.5,676.5 L372,742.5 Q377,745.5 381,744.7 L400,735" fill="none" stroke="#000" stroke-width="0.7" stroke-linejoin="round" stroke-linecap="round" />
<path d="M254.5,679.3 L371,745 Q377,748 383,747" fill="none" stroke="#000" stroke-width="0.7" stroke-linejoin="round" stroke-linecap="round" />
<path d="M255,688 L375.7,753.2 Q380,755.5 384.2,753.8 L402.4,744.7" fill="none" stroke="#000" stroke-width="1.1" stroke-linejoin="round" stroke-linecap="round" />
<path d="M256,691.5 L372,755.5" fill="none" stroke="#000" stroke-width="0.6" stroke-linejoin="round" stroke-linecap="round" />
<path d="M402,729.99 L572,632.92" fill="none" stroke="#000" stroke-width="0.9" stroke-linejoin="round" stroke-linecap="round" />
<path d="M402,733.19 L572,636.12" fill="none" stroke="#000" stroke-width="0.7" stroke-linejoin="round" stroke-linecap="round" />
<path d="M258,726.5 L367,788.5" fill="none" stroke="#000" stroke-width="0.8" stroke-linejoin="round" stroke-linecap="round" />
<path d="M254,672 Q251.5,673 252,680 L252.5,686 Q253,689 255.5,690" fill="none" stroke="#000" stroke-width="1.2" stroke-linejoin="round" stroke-linecap="round" />
<path d="M404,755.5 L404,777.5" fill="none" stroke="#000" stroke-width="1.1" stroke-linejoin="miter" stroke-linecap="butt"/>
<path d="M404,774 L431.2,759.3" fill="none" stroke="#000" stroke-width="1.3" stroke-linejoin="round" stroke-linecap="round" />
<path d="M519,704 L548.4,689" fill="none" stroke="#000" stroke-width="1.3" stroke-linejoin="round" stroke-linecap="round" />
<path d="M566,628 Q558,628 552,634 Q548,640 547,647 L547,688" fill="none" stroke="#000" stroke-width="0.8" stroke-linejoin="round" stroke-linecap="round" />
<path d="M549.6,649.5 L549.6,689.4 M552,648 L552,688" fill="none" stroke="#000" stroke-width="0.6" stroke-linejoin="round" stroke-linecap="round" />
<path d="M570,632 L549.6,643" fill="none" stroke="#000" stroke-width="0.7" stroke-linejoin="round" stroke-linecap="round" />
<path d="M429,742 L429,756 Q430,762.5 437.5,762.3 L515.5,720.5 Q520,717.5 520,711 L520,695 Q519,689.5 515,690.5 L512,692 Q508,682 503,684 L500,686 Q495.5,685 494.5,690 L494.5,706 L501.5,709 L501.5,713.5 Q501,719.5 496,722 L462,741.5 Q456.5,744.5 456,738.5 L456,731.5 L453,729 Q453,718 446,716.5 Q441.5,716.5 441.5,721 Q437,720 433,722 Q429,726 429,731 Z" fill="#fff" stroke="#000" stroke-width="1.3" stroke-linejoin="round"/>
<path d="M456,731.5 L494.5,709.5" fill="none" stroke="#000" stroke-width="0.0" stroke-linejoin="round" stroke-linecap="round" />
<path d="M429,741.5 L436,738.5 L436,744" fill="none" stroke="#000" stroke-width="0.7" stroke-linejoin="round" stroke-linecap="round" />
<path d="M441.5,721 Q445,724 445,732 L445,735 M446,716.5 Q450,719 450.5,729" fill="none" stroke="#000" stroke-width="0.7" stroke-linejoin="round" stroke-linecap="round" />
<path d="M494.5,690 Q498,692 498.5,700 L498.5,706 M503,684 Q507,687 507,694 L507,700" fill="none" stroke="#000" stroke-width="0.7" stroke-linejoin="round" stroke-linecap="round" />
<path d="M501.5,713.5 Q504,720 498,725 L463,745.5" fill="none" stroke="#000" stroke-width="0.6" stroke-linejoin="round" stroke-linecap="round" />
<path d="M430,749 Q430.5,745.5 434,745.5 Q436.5,746.5 436.5,751 Q436,755 432.5,755" fill="none" stroke="#000" stroke-width="0.8" stroke-linejoin="round" stroke-linecap="round" />
<path d="M412.3,718.5 L414.3,714.5 L424.3,710.0 L427.8,713.5 L428.8,743.5 L416.3,750.0 L413.3,746.5 Z" fill="#fff" stroke="#000" stroke-width="1.1" stroke-linejoin="round"/>
<path d="M414.3,718.5 L426.8,713.0 M414.3,729.5 L427.8,722.0 M414.8,732.5 L428.3,725.0" fill="none" stroke="#000" stroke-width="0.7" stroke-linejoin="round" stroke-linecap="round" />
<path d="M415.3,718.5 L415.3,748.5" fill="none" stroke="#000" stroke-width="0.6" stroke-linejoin="round" stroke-linecap="round" />
<path d="M517.6,658.3 L519.6,654.3 L529.6,649.8 L533.1,653.3 L534.1,683.3 L521.6,689.8 L518.6,686.3 Z" fill="#fff" stroke="#000" stroke-width="1.1" stroke-linejoin="round"/>
<path d="M519.6,658.3 L532.1,652.8 M519.6,669.3 L533.1,661.8 M520.1,672.3 L533.6,664.8" fill="none" stroke="#000" stroke-width="0.7" stroke-linejoin="round" stroke-linecap="round" />
<path d="M520.6,658.3 L520.6,688.3" fill="none" stroke="#000" stroke-width="0.6" stroke-linejoin="round" stroke-linecap="round" />
<path d="M402.5,737 Q398.5,733 401,729.5 Q405,727 409,731.5 L411,734" fill="none" stroke="#000" stroke-width="0.8" stroke-linejoin="round" stroke-linecap="round" />
<path d="M404,741 L411,737.5 M404,745 L411,741.5 M404,749 L411,745.5 M404,753 L411,749.5" fill="none" stroke="#000" stroke-width="0.7" stroke-linejoin="round" stroke-linecap="round" />
<path d="M404,741 L404,756" fill="none" stroke="#000" stroke-width="0.8" stroke-linejoin="round" stroke-linecap="round" />
<ellipse cx="539" cy="657" rx="2.2" ry="1.6" fill="none" stroke="#000" stroke-width="0.8"/>
<path d="M535,662 Q538,654 545,653.5 L566,642 M535,674 Q540,668 547,668 L552,666 M535,680 L551,672" fill="none" stroke="#000" stroke-width="0.7" stroke-linejoin="round" stroke-linecap="round" />
<path d="M536,650 Q539,645 546,644 L556,639" fill="none" stroke="#000" stroke-width="0.7" stroke-linejoin="round" stroke-linecap="round" />
<path d="M343.53,135.8 L344.94,135.24 L346.46,134.94 L348.08,134.91 L349.78,135.13 L351.54,135.62 L353.34,136.37 L355.16,137.36 L356.99,138.59 L358.79,140.05 L360.56,141.71 L362.28,143.56 L363.91,145.57 L365.45,147.74 L366.88,150.03 L368.19,152.41 L369.35,154.87 L370.36,157.37 L371.21,159.89 L371.88,162.4 L372.37,164.87 L372.67,167.28 L372.78,169.6 L372.71,171.79 L372.44,173.85 L371.98,175.75 L371.34,177.46 L370.53,178.97 L369.55,180.26 L368.41,181.32 L367.13,182.13 L365.73,182.69 L364.2,182.98 L360.4,187.0" stroke="#000" stroke-width="1.1" fill="none" stroke-linejoin="round" stroke-linecap="round"/>
<path d="M330.7,142.33 L329.68,142.95 L328.75,143.72 L327.91,144.64 L327.17,145.69 L326.54,146.89 L326.01,148.2 L325.6,149.64 L325.3,151.18 L325.11,152.82 L325.05,154.55 L325.1,156.34 L325.27,158.21 L325.55,160.12 L325.95,162.06" stroke="#000" stroke-width="1.5" fill="none" stroke-linejoin="round" stroke-linecap="round"/>
<path d="M331.65,175.59 L332.42,176.79 L333.22,177.94 L334.05,179.06 L334.91,180.14 L335.79,181.17 L336.69,182.16 L338.3,189.3" stroke="#000" stroke-width="1.5" fill="none" stroke-linejoin="round" stroke-linecap="round"/>
<path d="M330.7,142.33 L331.94,141.83 L333.28,141.52 L334.7,141.43 L336.18,141.54 L337.72,141.86 L339.3,142.38 L340.91,143.11 L342.53,144.03 L344.16,145.13 L345.76,146.41 L347.34,147.86 L348.88,149.46 L350.36,151.19 L351.78,153.06 L353.11,155.03 L354.35,157.09 L355.49,159.22 L356.52,161.41 L357.43,163.63 L358.2,165.87 L358.84,168.1 L359.34,170.32 L359.69,172.49 L359.9,174.6 L359.95,176.63 L359.85,178.57 L359.61,180.39 L359.21,182.09 L358.67,183.64 L357.99,185.03" stroke="#000" stroke-width="1.6" fill="none" stroke-linejoin="round" stroke-linecap="round"/>
<path d="M342.25,136.61 L341.11,137.66 L340.13,138.95 L339.32,140.46 L338.68,142.18 L338.22,144.07 L337.96,146.13 L337.88,148.33 L337.99,150.65 L338.29,153.05 L338.78,155.52" stroke="#000" stroke-width="0.8" fill="none" stroke-linejoin="round" stroke-linecap="round"/>
<path d="M347.29,173.04 L348.67,174.69 L350.1,176.22 L351.57,177.62 L353.07,178.87 L354.59,179.98 L356.11,180.92 L357.62,181.7 L359.12,182.3 L360.59,182.73 L362.02,182.97" stroke="#000" stroke-width="0.8" fill="none" stroke-linejoin="round" stroke-linecap="round"/>
<path d="M330.7,142.33 L343.53,135.8" stroke="#000" stroke-width="1.1" fill="none" stroke-linecap="round"/>
<path d="M336,188.8 L338.6,188 L338.9,207.5 L336.3,208.3 Z" fill="#222" stroke="#000" stroke-width="0.9"/>
<path d="M338.6,193 L347,189.5 L347,199.5 L338.8,203" fill="none" stroke="#000" stroke-width="0.9" stroke-linejoin="round" stroke-linecap="round" />
<path d="M341.5,196 L346,194.2 L346,199 L341.5,200.8 Z" fill="none" stroke="#000" stroke-width="0.8" stroke-linejoin="round" stroke-linecap="round" />
<path d="M346.6,191.2 L360.3,186.6 L360.6,206.5 L347,212.8 Z" fill="#fff" stroke="#000" stroke-width="1.2" stroke-linejoin="round"/>
<path d="M345.2,191.8 L345.5,213.6 L347,212.8" fill="none" stroke="#000" stroke-width="1.0" stroke-linejoin="round" stroke-linecap="round" />
<path d="M350.5,197 L358.6,194 L358.6,203 L350.5,206.3 Z" fill="none" stroke="#000" stroke-width="0.9" stroke-linejoin="round" stroke-linecap="round" />
<path d="M352.2,198.6 L357,196.8 L357,201.6 L352.2,203.5 Z" fill="none" stroke="#000" stroke-width="0.8" stroke-linejoin="round" stroke-linecap="round" />
<rect x="344.2" y="226" width="9.4" height="41" fill="#fff" stroke="#000" stroke-width="1.1"/>
<path d="M344.6,238.0 L353.2,237.0" fill="none" stroke="#000" stroke-width="0.6" stroke-linejoin="round" stroke-linecap="round" />
<path d="M344.6,239.65 L353.2,238.65" fill="none" stroke="#000" stroke-width="0.6" stroke-linejoin="round" stroke-linecap="round" />
<path d="M344.6,241.3 L353.2,240.3" fill="none" stroke="#000" stroke-width="0.6" stroke-linejoin="round" stroke-linecap="round" />
<path d="M344.6,242.95 L353.2,241.95" fill="none" stroke="#000" stroke-width="0.6" stroke-linejoin="round" stroke-linecap="round" />
<path d="M344.6,244.6 L353.2,243.6" fill="none" stroke="#000" stroke-width="0.6" stroke-linejoin="round" stroke-linecap="round" />
<path d="M344.6,246.25 L353.2,245.25" fill="none" stroke="#000" stroke-width="0.6" stroke-linejoin="round" stroke-linecap="round" />
<path d="M344.6,247.9 L353.2,246.9" fill="none" stroke="#000" stroke-width="0.6" stroke-linejoin="round" stroke-linecap="round" />
<path d="M344.6,249.55 L353.2,248.55" fill="none" stroke="#000" stroke-width="0.6" stroke-linejoin="round" stroke-linecap="round" />
<path d="M344.6,251.2 L353.2,250.2" fill="none" stroke="#000" stroke-width="0.6" stroke-linejoin="round" stroke-linecap="round" />
<path d="M344.6,252.85 L353.2,251.85" fill="none" stroke="#000" stroke-width="0.6" stroke-linejoin="round" stroke-linecap="round" />
<path d="M344.6,254.5 L353.2,253.5" fill="none" stroke="#000" stroke-width="0.6" stroke-linejoin="round" stroke-linecap="round" />
<path d="M344.6,256.15 L353.2,255.15" fill="none" stroke="#000" stroke-width="0.6" stroke-linejoin="round" stroke-linecap="round" />
<path d="M344.6,257.8 L353.2,256.8" fill="none" stroke="#000" stroke-width="0.6" stroke-linejoin="round" stroke-linecap="round" />
<path d="M344.6,259.45 L353.2,258.45" fill="none" stroke="#000" stroke-width="0.6" stroke-linejoin="round" stroke-linecap="round" />
<path d="M344.6,261.1 L353.2,260.1" fill="none" stroke="#000" stroke-width="0.6" stroke-linejoin="round" stroke-linecap="round" />
<path d="M344.6,262.75 L353.2,261.75" fill="none" stroke="#000" stroke-width="0.6" stroke-linejoin="round" stroke-linecap="round" />
<path d="M344.6,264.4 L353.2,263.4" fill="none" stroke="#000" stroke-width="0.6" stroke-linejoin="round" stroke-linecap="round" />
<path d="M344.6,266.05 L353.2,265.05" fill="none" stroke="#000" stroke-width="0.6" stroke-linejoin="round" stroke-linecap="round" />
<path d="M338.3,220.9 L345.6,217 L358,222.8 L358.3,227.5 L350.9,231.6 L338.6,225.6 Z" fill="#fff" stroke="#000" stroke-width="1.2" stroke-linejoin="round"/>
<path d="M338.3,220.9 L350.7,226.7 L358,222.8 M350.7,226.7 L350.9,231.6" fill="none" stroke="#000" stroke-width="0.9" stroke-linejoin="round" stroke-linecap="round" />
<path d="M328.9,301.6 L330.5,296 L371.5,297 L369.6,314.7 L353.6,324.8 Z" fill="#fff" stroke="#000" stroke-width="1.3" stroke-linejoin="round"/>
<path d="M353.6,300.5 L353.6,324.8" fill="none" stroke="#000" stroke-width="0.7" stroke-linejoin="miter" stroke-linecap="butt"/>
<path d="M358,260.9 L376.9,250 L405.2,266 L406.7,295.8 L389.2,298.7 L358,297.5 Z" fill="#fff" stroke="#000" stroke-width="1.3" stroke-linejoin="round"/>
<path d="M391.2,280.5 L406.2,269 L407.2,294.8 L392,298.6 Z" fill="url(#vhatch)" stroke="#000" stroke-width="1.0"/>
<path d="M387.5,277.8 L405.2,266.2 L406.3,269.2 L391.2,280.5 Z" fill="url(#knurl)" stroke="#000" stroke-width="0.6"/>
<path d="M358,260.9 L387,277.6 L405.2,266 M387,277.6 L389.2,298.7" fill="none" stroke="#000" stroke-width="1.1" stroke-linejoin="round" stroke-linecap="round" />
<path d="M385,276.2 L386.8,298.5" fill="none" stroke="#000" stroke-width="0.6" stroke-linejoin="round" stroke-linecap="round" />
<path d="M320.2,249.2 L336.9,239.8 L340.5,241.6 L341,250 Q342,268 349,276 Q353,279 355.5,276 L357.2,260.9 L358,297.5 L330.5,296 Q326,282 322,268 Q320,258 320.2,249.2 Z" fill="#fff" stroke="#000" stroke-width="1.3" stroke-linejoin="round"/>
<path d="M323.8,251.4 Q325,263 331.8,271 Q337,279 343.4,281.2 Q350,282.5 353.6,279.8 Q356.5,276 356.5,270" fill="none" stroke="#000" stroke-width="1.1" stroke-linejoin="round" stroke-linecap="round" />
<path d="M336.9,239.8 Q336,256 340.5,268 Q344,276 349,279" fill="none" stroke="#000" stroke-width="0.7" stroke-linejoin="round" stroke-linecap="round" />
<path d="M320.2,249.2 L323.8,251.4" fill="none" stroke="#000" stroke-width="1.0" stroke-linejoin="round" stroke-linecap="round" />
<path d="M327.4,285.6 L358,297.5" fill="none" stroke="#000" stroke-width="0.7" stroke-linejoin="round" stroke-linecap="round" />
<path d="M344,270 L344,281 M347,271 L347,281" fill="none" stroke="#000" stroke-width="0.6" stroke-linejoin="round" stroke-linecap="round" />
<path d="M328,368.5 Q326.2,401.9 328,451.3 L369.5,451.3 Q371.3,401.9 369.5,368.5 Z" fill="#fff" stroke="none"/>
<path d="M328,368.5 Q326.2,401.9 328,451.3" fill="none" stroke="#000" stroke-width="1.4" stroke-linejoin="round" stroke-linecap="round" />
<path d="M369.5,368.5 Q371.3,401.9 369.5,451.3" fill="none" stroke="#000" stroke-width="1.4" stroke-linejoin="round" stroke-linecap="round" />
<path d="M328,451.3 Q322.55,454.0 322.95,460 Q323.45,478.7 348.75,478.7 Q374.05,478.7 374.25,460 Q374.55,454.0 369.5,451.3" fill="#fff" stroke="#000" stroke-width="1.5" stroke-linejoin="round"/>
<path d="M330,455.0 Q339.75,461.25 348.75,461.25 Q358.75,461 367.5,455.0" fill="none" stroke="#000" stroke-width="0.8" stroke-linejoin="round" stroke-linecap="round" />
<path d="M323.75,466.25 Q330.75,472.5 348.75,472.5 Q366.75,472.5 373.75,466.25" fill="none" stroke="#000" stroke-width="0.8" stroke-linejoin="round" stroke-linecap="round" />
<path d="M309.45,352.5 L309.75,355.5 A39.3 22.5 0 0 0 387.75,355.5 L388.05,352.5 Z" fill="#fff" stroke="#000" stroke-width="1.3"/>
<ellipse cx="348.75" cy="352.5" rx="39.3" ry="22.5" fill="#fff" stroke="#000" stroke-width="1.3"/>
<ellipse cx="348.75" cy="350.2" rx="17.5" ry="9.8" fill="none" stroke="#000" stroke-width="0.9"/>
<ellipse cx="348.75" cy="349.6" rx="13" ry="7.2" fill="none" stroke="#000" stroke-width="0.8"/>
<ellipse cx="348.0" cy="349.0" rx="4.2" ry="2.6" fill="none" stroke="#000" stroke-width="0.9"/>
<ellipse cx="348.0" cy="349.0" rx="2.2" ry="1.3" fill="none" stroke="#000" stroke-width="0.6"/>
<path d="M624.78,135.8 L626.19,135.24 L627.71,134.94 L629.33,134.91 L631.03,135.13 L632.79,135.62 L634.59,136.37 L636.41,137.36 L638.24,138.59 L640.04,140.05 L641.81,141.71 L643.53,143.56 L645.16,145.57 L646.7,147.74 L648.13,150.03 L649.44,152.41 L650.6,154.87 L651.61,157.37 L652.46,159.89 L653.13,162.4 L653.62,164.87 L653.92,167.28 L654.03,169.6 L653.96,171.79 L653.69,173.85 L653.23,175.75 L652.59,177.46 L651.78,178.97 L650.8,180.26 L649.66,181.32 L648.38,182.13 L646.98,182.69 L645.45,182.98 L641.65,187.0" stroke="#000" stroke-width="1.1" fill="none" stroke-linejoin="round" stroke-linecap="round"/>
<path d="M611.95,142.33 L610.93,142.95 L610.0,143.72 L609.16,144.64 L608.42,145.69 L607.79,146.89 L607.26,148.2 L606.85,149.64 L606.55,151.18 L606.36,152.82 L606.3,154.55 L606.35,156.34 L606.52,158.21 L606.8,160.12 L607.2,162.06" stroke="#000" stroke-width="1.5" fill="none" stroke-linejoin="round" stroke-linecap="round"/>
<path d="M612.9,175.59 L613.67,176.79 L614.47,177.94 L615.3,179.06 L616.16,180.14 L617.04,181.17 L617.94,182.16 L619.55,189.3" stroke="#000" stroke-width="1.5" fill="none" stroke-linejoin="round" stroke-linecap="round"/>
<path d="M611.95,142.33 L613.19,141.83 L614.53,141.52 L615.95,141.43 L617.43,141.54 L618.97,141.86 L620.55,142.38 L622.16,143.11 L623.78,144.03 L625.41,145.13 L627.01,146.41 L628.59,147.86 L630.13,149.46 L631.61,151.19 L633.03,153.06 L634.36,155.03 L635.6,157.09 L636.74,159.22 L637.77,161.41 L638.68,163.63 L639.45,165.87 L640.09,168.1 L640.59,170.32 L640.94,172.49 L641.15,174.6 L641.2,176.63 L641.1,178.57 L640.86,180.39 L640.46,182.09 L639.92,183.64 L639.24,185.03" stroke="#000" stroke-width="1.6" fill="none" stroke-linejoin="round" stroke-linecap="round"/>
<path d="M623.5,136.61 L622.36,137.66 L621.38,138.95 L620.57,140.46 L619.93,142.18 L619.47,144.07 L619.21,146.13 L619.13,148.33 L619.24,150.65 L619.54,153.05 L620.03,155.52" stroke="#000" stroke-width="0.8" fill="none" stroke-linejoin="round" stroke-linecap="round"/>
<path d="M628.54,173.04 L629.92,174.69 L631.35,176.22 L632.82,177.62 L634.32,178.87 L635.84,179.98 L637.36,180.92 L638.87,181.7 L640.37,182.3 L641.84,182.73 L643.27,182.97" stroke="#000" stroke-width="0.8" fill="none" stroke-linejoin="round" stroke-linecap="round"/>
<path d="M611.95,142.33 L624.78,135.8" stroke="#000" stroke-width="1.1" fill="none" stroke-linecap="round"/>
<path d="M617.25,188.8 L619.85,188 L620.15,207.5 L617.55,208.3 Z" fill="#222" stroke="#000" stroke-width="0.9"/>
<path d="M619.85,193 L628.25,189.5 L628.25,199.5 L620.05,203" fill="none" stroke="#000" stroke-width="0.9" stroke-linejoin="round" stroke-linecap="round" />
<path d="M622.75,196 L627.25,194.2 L627.25,199 L622.75,200.8 Z" fill="none" stroke="#000" stroke-width="0.8" stroke-linejoin="round" stroke-linecap="round" />
<path d="M627.85,191.2 L641.55,186.6 L641.85,206.5 L628.25,212.8 Z" fill="#fff" stroke="#000" stroke-width="1.2" stroke-linejoin="round"/>
<path d="M626.45,191.8 L626.75,213.6 L628.25,212.8" fill="none" stroke="#000" stroke-width="1.0" stroke-linejoin="round" stroke-linecap="round" />
<path d="M631.75,197 L639.85,194 L639.85,203 L631.75,206.3 Z" fill="none" stroke="#000" stroke-width="0.9" stroke-linejoin="round" stroke-linecap="round" />
<path d="M633.45,198.6 L638.25,196.8 L638.25,201.6 L633.45,203.5 Z" fill="none" stroke="#000" stroke-width="0.8" stroke-linejoin="round" stroke-linecap="round" />
<rect x="625.45" y="226" width="9.4" height="41" fill="#fff" stroke="#000" stroke-width="1.1"/>
<path d="M625.85,238.0 L634.45,237.0" fill="none" stroke="#000" stroke-width="0.6" stroke-linejoin="round" stroke-linecap="round" />
<path d="M625.85,239.65 L634.45,238.65" fill="none" stroke="#000" stroke-width="0.6" stroke-linejoin="round" stroke-linecap="round" />
<path d="M625.85,241.3 L634.45,240.3" fill="none" stroke="#000" stroke-width="0.6" stroke-linejoin="round" stroke-linecap="round" />
<path d="M625.85,242.95 L634.45,241.95" fill="none" stroke="#000" stroke-width="0.6" stroke-linejoin="round" stroke-linecap="round" />
<path d="M625.85,244.6 L634.45,243.6" fill="none" stroke="#000" stroke-width="0.6" stroke-linejoin="round" stroke-linecap="round" />
<path d="M625.85,246.25 L634.45,245.25" fill="none" stroke="#000" stroke-width="0.6" stroke-linejoin="round" stroke-linecap="round" />
<path d="M625.85,247.9 L634.45,246.9" fill="none" stroke="#000" stroke-width="0.6" stroke-linejoin="round" stroke-linecap="round" />
<path d="M625.85,249.55 L634.45,248.55" fill="none" stroke="#000" stroke-width="0.6" stroke-linejoin="round" stroke-linecap="round" />
<path d="M625.85,251.2 L634.45,250.2" fill="none" stroke="#000" stroke-width="0.6" stroke-linejoin="round" stroke-linecap="round" />
<path d="M625.85,252.85 L634.45,251.85" fill="none" stroke="#000" stroke-width="0.6" stroke-linejoin="round" stroke-linecap="round" />
<path d="M625.85,254.5 L634.45,253.5" fill="none" stroke="#000" stroke-width="0.6" stroke-linejoin="round" stroke-linecap="round" />
<path d="M625.85,256.15 L634.45,255.15" fill="none" stroke="#000" stroke-width="0.6" stroke-linejoin="round" stroke-linecap="round" />
<path d="M625.85,257.8 L634.45,256.8" fill="none" stroke="#000" stroke-width="0.6" stroke-linejoin="round" stroke-linecap="round" />
<path d="M625.85,259.45 L634.45,258.45" fill="none" stroke="#000" stroke-width="0.6" stroke-linejoin="round" stroke-linecap="round" />
<path d="M625.85,261.1 L634.45,260.1" fill="none" stroke="#000" stroke-width="0.6" stroke-linejoin="round" stroke-linecap="round" />
<path d="M625.85,262.75 L634.45,261.75" fill="none" stroke="#000" stroke-width="0.6" stroke-linejoin="round" stroke-linecap="round" />
<path d="M625.85,264.4 L634.45,263.4" fill="none" stroke="#000" stroke-width="0.6" stroke-linejoin="round" stroke-linecap="round" />
<path d="M625.85,266.05 L634.45,265.05" fill="none" stroke="#000" stroke-width="0.6" stroke-linejoin="round" stroke-linecap="round" />
<path d="M619.55,220.9 L626.85,217 L639.25,222.8 L639.55,227.5 L632.15,231.6 L619.85,225.6 Z" fill="#fff" stroke="#000" stroke-width="1.2" stroke-linejoin="round"/>
<path d="M619.55,220.9 L631.95,226.7 L639.25,222.8 M631.95,226.7 L632.15,231.6" fill="none" stroke="#000" stroke-width="0.9" stroke-linejoin="round" stroke-linecap="round" />
<path d="M605.2,279 L608.6,301 L632,322.9 L649.8,312.7 L652.6,292 Z" fill="#fff" stroke="#000" stroke-width="1.3" stroke-linejoin="round"/>
<path d="M633.2,296.2 L633.2,322.9" fill="none" stroke="#000" stroke-width="0.7" stroke-linejoin="miter" stroke-linecap="butt"/>
<path d="M643.3,257.9 L651,253.6 L684.1,261.9 L684.7,288.6 L666.3,298.8 L643.3,288 Z" fill="#fff" stroke="#000" stroke-width="1.3" stroke-linejoin="round"/>
<path d="M643.3,257.9 L666.3,270.1 L684.1,261.9 M666.3,270.1 L666.3,298.8" fill="none" stroke="#000" stroke-width="1.0" stroke-linejoin="round" stroke-linecap="round" />
<path d="M667.8,271.5 L667.8,297.5" fill="none" stroke="#000" stroke-width="0.5" stroke-linejoin="round" stroke-linecap="round" />
<ellipse cx="661.5" cy="273.5" rx="2.2" ry="2.8" fill="none" stroke="#000" stroke-width="0.9"/>
<path d="M650,266.5 L650.3,255 L657,251.5 L656.9,245.5 Q661,240.5 667,243.2 L677,239.8 L678,254.5 L670.4,258 L670,262 L652,266.8 Z" fill="#fff" stroke="#000" stroke-width="1.1" stroke-linejoin="round"/>
<ellipse cx="663.6" cy="245.6" rx="6.8" ry="3.6" fill="#fff" stroke="#000" stroke-width="1.0"/>
<path d="M650.3,255 L657.5,258.5 L670,254 M657.5,258.5 L657.4,265.5 M670.4,258 L670.4,247" fill="none" stroke="#000" stroke-width="0.8" stroke-linejoin="round" stroke-linecap="round" />
<path d="M601.8,250.3 L606,252.2 L609.4,264.7 L617,274.8 L627.2,280.8 L634.8,282.5 L638,280 L639,271.4 L649.2,275.7 L665.3,283.3 L665.3,297.7 L649.2,291 L640.8,296.9 L634,292.6 L626.4,289.2 L607.7,279.9 L601.8,276.5 Z" fill="url(#xhatch)" stroke="#000" stroke-width="1.1" stroke-linejoin="round"/>
<path d="M606,252.2 L620.5,241.5 L621.5,243 L623,255 L628,266 L634,272 L639,271.4 L638,280 L634.8,282.5 L627.2,280.8 L617,274.8 L609.4,264.7 Z" fill="#fff" stroke="#000" stroke-width="1.0" stroke-linejoin="round"/>
<path d="M601.8,250.3 L620.5,239.6 L621.5,243" fill="none" stroke="#000" stroke-width="1.2" stroke-linejoin="round" stroke-linecap="round" />
<path d="M620.5,241.5 Q619.5,256 625,266 Q630,274 637,276" fill="none" stroke="#000" stroke-width="0.7" stroke-linejoin="round" stroke-linecap="round" />
<path d="M620,270.5 L620,281 M623.5,272 L623.5,283" fill="none" stroke="#000" stroke-width="0.6" stroke-linejoin="round" stroke-linecap="round" />
<path d="M621,269 L627,268.5 L633,274" fill="none" stroke="#000" stroke-width="0.6" stroke-linejoin="round" stroke-linecap="round" />
<path d="M608.7,367.25 Q606.9000000000001,401.275 608.7,451.3 L648.3,451.3 Q650.0999999999999,401.275 648.3,367.25 Z" fill="#fff" stroke="none"/>
<path d="M608.7,367.25 Q606.9000000000001,401.275 608.7,451.3" fill="none" stroke="#000" stroke-width="1.4" stroke-linejoin="round" stroke-linecap="round" />
<path d="M648.3,367.25 Q650.0999999999999,401.275 648.3,451.3" fill="none" stroke="#000" stroke-width="1.4" stroke-linejoin="round" stroke-linecap="round" />
<path d="M608.7,451.3 Q603.5,455.0 603.3,466 Q604.0,478.6 628.3,478.6 Q653.0,478.6 653.5999999999999,466 Q653.5999999999999,455.0 648.3,451.3" fill="#fff" stroke="#000" stroke-width="1.5" stroke-linejoin="round"/>
<path d="M603.6999999999999,465.3 Q604.5,474.6 628.3,474.6 Q652.5,474.6 653.0,465.3" fill="none" stroke="#000" stroke-width="0.7" stroke-linejoin="round" stroke-linecap="round" />
<path d="M609.0,452.1 Q614.7,461 627.3,461 Q635.3,460 636.9,455.3" fill="none" stroke="#000" stroke-width="0.8" stroke-linejoin="round" stroke-linecap="round" />
<path d="M637.3,374.25 Q635.8,401.275 637.3,454.3" fill="none" stroke="#000" stroke-width="0.7" stroke-linejoin="round" stroke-linecap="round" />
<path d="M640.8,374.25 Q639.5,401.275 640.8,453.3 Q642.3,456.3 645.8,452.3" fill="none" stroke="#000" stroke-width="0.8" stroke-linejoin="round" stroke-linecap="round" />
<path d="M588.75,351.25 L589.05,354.25 A40 21.6 0 0 0 668.45,354.25 L668.75,351.25 Z" fill="#fff" stroke="#000" stroke-width="1.3"/>
<ellipse cx="628.75" cy="351.25" rx="40" ry="21.6" fill="#fff" stroke="#000" stroke-width="1.3"/>
<ellipse cx="628.25" cy="349.0" rx="11" ry="6.2" fill="none" stroke="#000" stroke-width="0.9"/>
<ellipse cx="628.25" cy="348.6" rx="6.0" ry="3.4" fill="none" stroke="#000" stroke-width="1.0"/>
<path d="M618,354 Q628.5,358 639,354" fill="none" stroke="#000" stroke-width="0.6" stroke-linejoin="round" stroke-linecap="round" />
<path d="M240.49,362.08 L240.26,362.18 L240.01,362.22 L239.75,362.22 L239.47,362.17 L239.18,362.06 L238.88,361.92 L238.59,361.72 L238.3,361.49 L238.02,361.21 L237.75,360.91 L237.51,360.57 L237.29,360.22 L237.09,359.85 L236.93,359.47 L236.8,359.09 L236.71,358.71 L236.66,358.34 L236.64,357.99 L236.66,357.66 L236.72,357.35 L236.82,357.08 L236.95,356.85 L237.12,356.66 L237.31,356.52 L378.71,275.82 L378.94,275.72 L379.19,275.68 L379.45,275.68 L379.73,275.73 L380.02,275.84 L380.32,275.98 L380.61,276.18 L380.9,276.41 L381.18,276.69 L381.45,276.99 L381.69,277.33 L381.91,277.68 L382.11,278.05 L382.27,278.43 L382.4,278.81 L382.49,279.19 L382.54,279.56 L382.56,279.91 L382.54,280.24 L382.48,280.55 L382.38,280.82 L382.25,281.05 L382.08,281.24 L381.89,281.38 Z" fill="#fff" stroke="#000" stroke-width="1.2" stroke-linejoin="round"/>
<ellipse cx="238.9" cy="359.3" rx="1.86" ry="3.2" transform="rotate(-29.71432587879732 238.9 359.3)" fill="#fff" stroke="#000" stroke-width="1.1" />
<path d="M239.66,357.6 L379.75,277.64" stroke="#000" stroke-width="0.7" fill="none" stroke-linecap="round"/>
<path d="M241.93,360.57 L380.72,281.35" stroke="#000" stroke-width="1.4" stroke-dasharray="0.9 0.9" fill="none"/>
<path d="M515.59,361.58 L515.36,361.68 L515.11,361.72 L514.85,361.72 L514.57,361.67 L514.28,361.56 L513.98,361.42 L513.69,361.22 L513.4,360.99 L513.12,360.71 L512.85,360.41 L512.61,360.07 L512.39,359.72 L512.19,359.35 L512.03,358.97 L511.9,358.59 L511.81,358.21 L511.76,357.84 L511.74,357.49 L511.76,357.15 L511.82,356.85 L511.92,356.58 L512.05,356.35 L512.22,356.16 L512.41,356.02 L654.71,274.82 L654.94,274.72 L655.19,274.68 L655.45,274.68 L655.73,274.73 L656.02,274.84 L656.32,274.98 L656.61,275.18 L656.9,275.41 L657.18,275.69 L657.45,275.99 L657.69,276.33 L657.91,276.68 L658.11,277.05 L658.27,277.43 L658.4,277.81 L658.49,278.19 L658.54,278.56 L658.56,278.91 L658.54,279.25 L658.48,279.55 L658.38,279.82 L658.25,280.05 L658.08,280.24 L657.89,280.38 Z" fill="#fff" stroke="#000" stroke-width="1.2" stroke-linejoin="round"/>
<ellipse cx="514.0" cy="358.8" rx="1.86" ry="3.2" transform="rotate(-29.71018024613896 514.0 358.8)" fill="#fff" stroke="#000" stroke-width="1.1" />
<path d="M514.76,357.1 L655.75,276.64" stroke="#000" stroke-width="0.7" fill="none" stroke-linecap="round"/>
<path d="M517.03,360.07 L656.72,280.35" stroke="#000" stroke-width="1.4" stroke-dasharray="0.9 0.9" fill="none"/>
<path d="M818.26,215.46 L876.1,181.14" fill="none" stroke="#000" stroke-width="0.9" stroke-linejoin="miter" stroke-linecap="butt"/>
<path d="M889.61,196.16 L888.23,196.83 L886.69,197.2 L885.03,197.27 L883.27,197.04 L881.44,196.51 L879.57,195.7 L877.7,194.61 L875.85,193.26 L874.07,191.68 L872.37,189.89 L870.79,187.93 L869.36,185.82 L868.09,183.61 L867.02,181.33 L866.16,179.02 L865.52,176.72 L865.12,174.47 L864.96,172.31 L865.04,170.28 L865.37,168.4 L865.93,166.72 L866.73,165.25 L867.74,164.03 L868.94,163.08 L880.82,155.66 L882.2,155.0 L883.74,154.62 L885.4,154.55 L887.16,154.78 L888.99,155.31 L890.86,156.12 L892.73,157.22 L894.58,158.56 L896.36,160.15 L898.06,161.93 L899.64,163.9 L901.07,166.0 L902.34,168.21 L903.41,170.49 L904.27,172.8 L904.91,175.1 L905.31,177.35 L905.47,179.51 L905.39,181.55 L905.06,183.42 L904.49,185.11 L903.7,186.57 L902.69,187.79 L901.48,188.74 Z" fill="#fff" stroke="#000" stroke-width="1.3" stroke-linejoin="round"/>
<path d="M886.64,202.73 L884.98,203.53 L883.12,203.98 L881.12,204.07 L879.0,203.8 L876.79,203.16 L874.54,202.18 L872.28,200.86 L870.06,199.24 L867.91,197.33 L865.86,195.18 L863.96,192.81 L862.23,190.27 L860.71,187.61 L859.42,184.86 L858.38,182.08 L857.61,179.31 L857.12,176.6 L856.93,173.99 L857.03,171.54 L857.43,169.28 L858.11,167.25 L859.07,165.48 L860.28,164.02 L861.74,162.87 L866.83,159.69 L868.49,158.89 L870.34,158.44 L872.35,158.35 L874.47,158.63 L876.68,159.26 L878.93,160.25 L881.18,161.56 L883.41,163.19 L885.56,165.09 L887.61,167.25 L889.51,169.61 L891.24,172.15 L892.76,174.81 L894.05,177.56 L895.09,180.34 L895.86,183.11 L896.35,185.82 L896.54,188.43 L896.44,190.88 L896.04,193.14 L895.36,195.17 L894.4,196.94 L893.19,198.4 L891.73,199.55 Z" fill="#fff" stroke="#000" stroke-width="1.3" stroke-linejoin="round"/>
<ellipse cx="874.19" cy="182.8" rx="14.1" ry="23.5" transform="rotate(-32 874.19 182.8)" fill="#fff" stroke="#000" stroke-width="1.3" />
<ellipse cx="874.61" cy="182.54" rx="12.9" ry="21.5" transform="rotate(-32 874.61 182.54)" fill="none" stroke="#000" stroke-width="0.7" />
<ellipse cx="874.87" cy="182.38" rx="9.3" ry="15.5" transform="rotate(-32 874.87 182.38)" fill="none" stroke="#000" stroke-width="1.1" />
<path d="M865.63,172.64 L864.94,174.74 L864.76,177.22 L865.11,179.97 L865.97,182.83 L867.29,185.67 L869.02,188.33 L871.05,190.68 L873.28,192.6 L875.61,193.99 L877.9,194.78" stroke="#000" stroke-width="0.7" fill="none" stroke-linejoin="round" stroke-linecap="round"/>
<path d="M866.64,173.67 L866.02,175.54 L865.86,177.77 L866.17,180.22 L866.94,182.77 L868.12,185.31 L869.66,187.68 L871.47,189.78 L873.47,191.49 L875.54,192.73 L877.59,193.44" stroke="#000" stroke-width="0.7" fill="none" stroke-linejoin="round" stroke-linecap="round"/>
<path d="M867.65,174.7 L867.1,176.35 L866.96,178.31 L867.24,180.46 L867.91,182.71 L868.95,184.94 L870.31,187.03 L871.9,188.88 L873.66,190.39 L875.48,191.48 L877.29,192.1" stroke="#000" stroke-width="0.7" fill="none" stroke-linejoin="round" stroke-linecap="round"/>
<path d="M868.65,175.73 L868.18,177.16 L868.06,178.85 L868.3,180.71 L868.89,182.65 L869.78,184.58 L870.95,186.38 L872.33,187.98 L873.85,189.28 L875.42,190.22 L876.98,190.76" stroke="#000" stroke-width="0.7" fill="none" stroke-linejoin="round" stroke-linecap="round"/>
<path d="M858.3,190.68 L876.1,181.14" fill="none" stroke="#000" stroke-width="0.9" stroke-linejoin="miter" stroke-linecap="butt"/>
<path d="M842.31,221.67 L841.05,222.27 L839.65,222.62 L838.13,222.68 L836.52,222.47 L834.85,221.99 L833.15,221.25 L831.44,220.25 L829.75,219.02 L828.12,217.58 L826.57,215.94 L825.13,214.15 L823.82,212.23 L822.67,210.21 L821.69,208.13 L820.9,206.02 L820.32,203.92 L819.95,201.87 L819.81,199.9 L819.88,198.04 L820.18,196.33 L820.7,194.79 L821.42,193.45 L822.35,192.34 L823.45,191.47 L839.56,181.41 L840.82,180.8 L842.23,180.46 L843.74,180.39 L845.35,180.6 L847.02,181.08 L848.73,181.83 L850.44,182.82 L852.12,184.05 L853.75,185.5 L855.3,187.13 L856.74,188.92 L858.05,190.84 L859.2,192.86 L860.18,194.94 L860.97,197.05 L861.55,199.15 L861.92,201.2 L862.07,203.17 L861.99,205.03 L861.69,206.74 L861.17,208.28 L860.45,209.62 L859.53,210.73 L858.43,211.6 Z" fill="#fff" stroke="#000" stroke-width="1.4" stroke-linejoin="round"/>
<ellipse cx="832.88" cy="206.57" rx="10.68" ry="17.8" transform="rotate(-32 832.88 206.57)" fill="#fff" stroke="#000" stroke-width="1.4" />
<ellipse cx="833.13" cy="206.41" rx="9.3" ry="15.5" transform="rotate(-32 833.13 206.41)" fill="none" stroke="#000" stroke-width="0.7" />
<ellipse cx="833.3" cy="206.31" rx="5.1" ry="8.5" transform="rotate(-32 833.3 206.31)" fill="none" stroke="#000" stroke-width="1.0" />
<ellipse cx="833.3" cy="206.31" rx="3.9" ry="6.5" transform="rotate(-32 833.3 206.31)" fill="none" stroke="#000" stroke-width="0.7" />
<path d="M829.94,202.86 L829.67,203.74 L829.65,204.8 L829.88,205.95 L830.34,207.13 L831.0,208.26 L831.82,209.25 L832.74,210.04 L833.7,210.58" stroke="#000" stroke-width="0.6" fill="none" stroke-linejoin="round" stroke-linecap="round"/>
<path d="M818.26,215.46 L831.61,207.84" fill="none" stroke="#000" stroke-width="0.9" stroke-linejoin="miter" stroke-linecap="butt"/>
<path d="M841.78,232.62 L844.32,231.35 L865.93,219.28 L876.1,238.98 L876.1,241.52 L858.3,251.69 L851.95,250.42 L850.68,249.15 Z" fill="#fff" stroke="#000" stroke-width="1.1" stroke-linejoin="round" stroke-linecap="round"/>
<path d="M848.13,241.52 L860.85,238.98 L869.74,235.17 L876.1,238.98 L876.1,241.52 L858.3,251.69 L851.95,250.42 Z" fill="#000" stroke="#000" stroke-width="0.8" stroke-linejoin="round" stroke-linecap="round"/>
<path d="M844.32,231.35 L847.5,240.89" fill="none" stroke="#000" stroke-width="0.7" stroke-linejoin="miter" stroke-linecap="butt"/>
<path d="M846.86,230.84 L850.04,240.63" fill="none" stroke="#000" stroke-width="0.7" stroke-linejoin="miter" stroke-linecap="butt"/>
<path d="M849.41,230.34 L852.58,240.38" fill="none" stroke="#000" stroke-width="0.7" stroke-linejoin="miter" stroke-linecap="butt"/>
<path d="M851.95,229.83 L855.13,240.12" fill="none" stroke="#000" stroke-width="0.7" stroke-linejoin="miter" stroke-linecap="butt"/>
<path d="M854.49,229.32 L857.67,239.87" fill="none" stroke="#000" stroke-width="0.7" stroke-linejoin="miter" stroke-linecap="butt"/>
<path d="M880.55,211.01 L915.5,190.68 L919.95,211.01 L919.95,213.56 L897.71,226.27 L897.71,233.89 L895.17,236.44 L892.62,232.62 L891.35,226.27 L888.81,225.0 Z" fill="#fff" stroke="#000" stroke-width="1.1" stroke-linejoin="round" stroke-linecap="round"/>
<path d="M888.81,225.0 L898.98,220.55 L906.61,212.29 L919.95,211.01 L919.95,213.56 L897.71,226.27 L897.71,233.89 L895.17,236.44 L892.62,232.62 L891.35,226.27 Z" fill="#000" stroke="#000" stroke-width="0.8" stroke-linejoin="round" stroke-linecap="round"/>
<path d="M886.27,209.74 L888.81,221.18" fill="none" stroke="#000" stroke-width="0.7" stroke-linejoin="miter" stroke-linecap="butt"/>
<path d="M890.08,207.65 L892.62,219.47" fill="none" stroke="#000" stroke-width="0.7" stroke-linejoin="miter" stroke-linecap="butt"/>
<path d="M893.89,205.55 L896.44,217.75" fill="none" stroke="#000" stroke-width="0.7" stroke-linejoin="miter" stroke-linecap="butt"/>
<path d="M897.71,203.45 L900.25,216.04" fill="none" stroke="#000" stroke-width="0.7" stroke-linejoin="miter" stroke-linecap="butt"/>
<path d="M901.52,201.35 L904.06,214.32" fill="none" stroke="#000" stroke-width="0.7" stroke-linejoin="miter" stroke-linecap="butt"/>
<path d="M905.33,199.26 L907.88,212.6" fill="none" stroke="#000" stroke-width="0.7" stroke-linejoin="miter" stroke-linecap="butt"/>
<path d="M909.15,197.16 L911.69,210.89" fill="none" stroke="#000" stroke-width="0.7" stroke-linejoin="miter" stroke-linecap="butt"/>
<path d="M843.05,231.99 L864.66,219.91" stroke="#fff" stroke-width="1.4" stroke-dasharray="2.5 2.5"/>
<path d="M881.82,210.38 L898.98,200.59" stroke="#fff" stroke-width="1.4" stroke-dasharray="2.5 3"/>
<path d="M999.41,188.3 L1012.75,180.04" fill="none" stroke="#000" stroke-width="0.9" stroke-linejoin="miter" stroke-linecap="butt"/>
<path d="M1030.97,190.51 L1029.73,191.11 L1028.35,191.45 L1026.85,191.51 L1025.27,191.31 L1023.63,190.83 L1021.96,190.1 L1020.28,189.12 L1018.62,187.91 L1017.02,186.49 L1015.49,184.89 L1014.08,183.12 L1012.79,181.23 L1011.66,179.25 L1010.69,177.2 L1009.92,175.13 L1009.35,173.07 L1008.98,171.05 L1008.84,169.11 L1008.92,167.28 L1009.21,165.6 L1009.72,164.09 L1010.43,162.78 L1011.34,161.68 L1012.42,160.83 L1025.99,152.35 L1027.23,151.75 L1028.61,151.42 L1030.1,151.35 L1031.68,151.56 L1033.33,152.03 L1035.0,152.76 L1036.68,153.74 L1038.34,154.95 L1039.94,156.37 L1041.46,157.98 L1042.88,159.74 L1044.17,161.63 L1045.3,163.61 L1046.26,165.66 L1047.04,167.73 L1047.61,169.79 L1047.97,171.81 L1048.12,173.75 L1048.04,175.58 L1047.75,177.26 L1047.24,178.77 L1046.53,180.09 L1045.62,181.18 L1044.54,182.03 Z" fill="#fff" stroke="#000" stroke-width="1.3" stroke-linejoin="round"/>
<path d="M1027.36,199.84 L1025.7,200.64 L1023.84,201.09 L1021.84,201.18 L1019.72,200.91 L1017.51,200.27 L1015.26,199.29 L1013.0,197.97 L1010.78,196.35 L1008.63,194.44 L1006.58,192.29 L1004.68,189.92 L1002.95,187.38 L1001.43,184.72 L1000.14,181.97 L999.1,179.19 L998.33,176.42 L997.84,173.71 L997.65,171.1 L997.75,168.65 L998.15,166.39 L998.83,164.36 L999.79,162.59 L1001.0,161.13 L1002.46,159.98 L1009.24,155.74 L1010.91,154.94 L1012.76,154.49 L1014.77,154.4 L1016.89,154.68 L1019.09,155.31 L1021.34,156.3 L1023.6,157.61 L1025.82,159.24 L1027.98,161.14 L1030.02,163.3 L1031.92,165.66 L1033.65,168.2 L1035.18,170.86 L1036.47,173.61 L1037.51,176.39 L1038.28,179.16 L1038.76,181.87 L1038.96,184.48 L1038.85,186.93 L1038.46,189.19 L1037.78,191.22 L1036.82,192.99 L1035.6,194.45 L1034.15,195.6 Z" fill="#fff" stroke="#000" stroke-width="1.3" stroke-linejoin="round"/>
<ellipse cx="1014.91" cy="179.91" rx="14.1" ry="23.5" transform="rotate(-32 1014.91 179.91)" fill="#fff" stroke="#000" stroke-width="1.3" />
<ellipse cx="1015.33" cy="179.65" rx="12.9" ry="21.5" transform="rotate(-32 1015.33 179.65)" fill="none" stroke="#000" stroke-width="0.7" />
<ellipse cx="1016.18" cy="179.12" rx="11.7" ry="19.5" transform="rotate(-32 1016.18 179.12)" fill="none" stroke="#000" stroke-width="0.7" />
<ellipse cx="1013.21" cy="180.97" rx="10.5" ry="17.5" transform="rotate(-32 1013.21 180.97)" fill="#fff" stroke="#000" stroke-width="1.3" />
<ellipse cx="1013.64" cy="180.7" rx="9.3" ry="15.5" transform="rotate(-32 1013.64 180.7)" fill="none" stroke="#000" stroke-width="0.8" />
<path d="M999.41,188.3 L1012.75,180.04" fill="none" stroke="#000" stroke-width="0.9" stroke-linejoin="miter" stroke-linecap="butt"/>
<path d="M989.4,215.01 L988.02,215.67 L986.48,216.05 L984.82,216.12 L983.06,215.89 L981.23,215.36 L979.36,214.55 L977.49,213.46 L975.64,212.11 L973.86,210.53 L972.16,208.74 L970.58,206.78 L969.15,204.67 L967.88,202.46 L966.81,200.18 L965.95,197.87 L965.31,195.57 L964.91,193.32 L964.75,191.16 L964.83,189.12 L965.16,187.25 L965.73,185.56 L966.52,184.1 L967.53,182.88 L968.74,181.93 L973.82,178.75 L975.21,178.09 L976.75,177.71 L978.41,177.64 L980.17,177.87 L982.0,178.4 L983.87,179.21 L985.74,180.3 L987.58,181.65 L989.37,183.23 L991.07,185.02 L992.65,186.98 L994.08,189.09 L995.34,191.3 L996.42,193.58 L997.28,195.89 L997.92,198.19 L998.32,200.44 L998.48,202.6 L998.4,204.64 L998.07,206.51 L997.5,208.2 L996.71,209.66 L995.7,210.88 L994.49,211.83 Z" fill="#fff" stroke="#000" stroke-width="1.4" stroke-linejoin="round"/>
<ellipse cx="979.07" cy="198.47" rx="11.7" ry="19.5" transform="rotate(-32 979.07 198.47)" fill="#fff" stroke="#000" stroke-width="1.4" />
<ellipse cx="979.32" cy="198.31" rx="10.2" ry="17.0" transform="rotate(-32 979.32 198.31)" fill="none" stroke="#000" stroke-width="0.7" />
<ellipse cx="979.49" cy="198.21" rx="4.8" ry="8.0" transform="rotate(-32 979.49 198.21)" fill="none" stroke="#000" stroke-width="1.0" />
<ellipse cx="979.49" cy="198.21" rx="3.6" ry="6.0" transform="rotate(-32 979.49 198.21)" fill="none" stroke="#000" stroke-width="0.7" />
<path d="M965.72,206.73 L979.07,199.74" fill="none" stroke="#000" stroke-width="0.9" stroke-linejoin="miter" stroke-linecap="butt"/>
<path d="M986.06,226.44 L1001.95,218.17 L1012.12,239.15 L1012.12,240.42 L1001.95,244.87 L996.86,243.6 Z" fill="#fff" stroke="#000" stroke-width="1.1" stroke-linejoin="round" stroke-linecap="round"/>
<path d="M994.32,234.7 L1003.22,232.79 L1010.85,237.88 L1012.12,240.42 L1001.95,244.87 L996.86,243.6 Z" fill="#000" stroke="#000" stroke-width="0.8" stroke-linejoin="round" stroke-linecap="round"/>
<path d="M987.96,225.48 L991.14,234.13" fill="none" stroke="#000" stroke-width="0.7" stroke-linejoin="miter" stroke-linecap="butt"/>
<path d="M991.14,223.89 L994.32,233.17" fill="none" stroke="#000" stroke-width="0.7" stroke-linejoin="miter" stroke-linecap="butt"/>
<path d="M994.32,222.31 L997.5,232.22" fill="none" stroke="#000" stroke-width="0.7" stroke-linejoin="miter" stroke-linecap="butt"/>
<path d="M997.5,220.72 L1000.68,231.27" fill="none" stroke="#000" stroke-width="0.7" stroke-linejoin="miter" stroke-linecap="butt"/>
<path d="M1000.68,219.13 L1003.85,230.31" fill="none" stroke="#000" stroke-width="0.7" stroke-linejoin="miter" stroke-linecap="butt"/>
<path d="M1013.39,211.18 L1057.88,186.4 L1066.14,203.56 L1066.14,205.46 L1043.89,217.54 L1044.53,227.71 L1041.99,229.61 L1039.45,227.71 L1038.81,221.35 L1028.64,228.98 L1024.83,227.71 Z" fill="#fff" stroke="#000" stroke-width="1.1" stroke-linejoin="round" stroke-linecap="round"/>
<path d="M1023.56,222.62 L1036.27,216.27 L1042.62,212.45 L1048.98,204.83 L1065.5,201.01 L1066.14,205.46 L1043.89,217.54 L1044.53,227.71 L1041.99,229.61 L1039.45,227.71 L1038.81,221.35 L1028.64,229.61 L1025.46,228.98 Z" fill="#000" stroke="#000" stroke-width="0.8" stroke-linejoin="round" stroke-linecap="round"/>
<path d="M1035.0,199.74 L1037.54,212.45" fill="none" stroke="#000" stroke-width="0.7" stroke-linejoin="miter" stroke-linecap="butt"/>
<path d="M1038.81,197.65 L1041.35,210.55" fill="none" stroke="#000" stroke-width="0.7" stroke-linejoin="miter" stroke-linecap="butt"/>
<path d="M1042.62,195.55 L1045.17,208.64" fill="none" stroke="#000" stroke-width="0.7" stroke-linejoin="miter" stroke-linecap="butt"/>
<path d="M1046.44,193.45 L1048.98,206.73" fill="none" stroke="#000" stroke-width="0.7" stroke-linejoin="miter" stroke-linecap="butt"/>
<path d="M1050.25,191.35 L1052.79,204.83" fill="none" stroke="#000" stroke-width="0.7" stroke-linejoin="miter" stroke-linecap="butt"/>
<path d="M1054.06,189.26 L1056.61,202.92" fill="none" stroke="#000" stroke-width="0.7" stroke-linejoin="miter" stroke-linecap="butt"/>
<path d="M1056.61,187.86 L1059.15,201.65" fill="none" stroke="#000" stroke-width="0.7" stroke-linejoin="miter" stroke-linecap="butt"/>
<path d="M1014.66,210.55 L1036.27,198.73" stroke="#fff" stroke-width="1.4" stroke-dasharray="2.5 3"/>
<path d="M987.33,225.8 L1001.31,218.56" stroke="#fff" stroke-width="1.4" stroke-dasharray="2.5 2.5"/>
<path d="M1106.9,326.75 L1106.36,326.99 L1105.75,327.11 L1105.1,327.11 L1104.42,326.98 L1103.71,326.74 L1102.99,326.38 L1102.27,325.91 L1101.56,325.34 L1100.87,324.67 L1100.22,323.93 L1099.62,323.12 L1099.08,322.26 L1098.61,321.36 L1098.21,320.44 L1097.89,319.5 L1097.66,318.58 L1097.52,317.68 L1097.47,316.82 L1097.52,316.02 L1097.66,315.28 L1097.9,314.62 L1098.22,314.06 L1098.62,313.6 L1099.1,313.25 L1106.29,309.1 L1106.83,308.86 L1107.43,308.74 L1108.08,308.74 L1108.77,308.87 L1109.48,309.11 L1110.2,309.47 L1110.92,309.94 L1111.63,310.51 L1112.32,311.18 L1112.96,311.92 L1113.56,312.73 L1114.11,313.59 L1114.58,314.49 L1114.98,315.41 L1115.3,316.35 L1115.53,317.27 L1115.67,318.17 L1115.72,319.03 L1115.67,319.83 L1115.52,320.57 L1115.29,321.23 L1114.97,321.79 L1114.57,322.25 L1114.09,322.6 Z" fill="#fff" stroke="#000" stroke-width="1.3" stroke-linejoin="round"/>
<ellipse cx="1103.0" cy="320.0" rx="4.52" ry="7.8" transform="rotate(-30 1103.0 320.0)" fill="none" stroke="#000" stroke-width="1.3" />
<ellipse cx="1103.26" cy="319.85" rx="3.02" ry="5.2" transform="rotate(-30 1103.26 319.85)" fill="none" stroke="#000" stroke-width="0.9" />
<ellipse cx="1103.26" cy="319.85" rx="2.03" ry="3.5" transform="rotate(-30 1103.26 319.85)" fill="none" stroke="#000" stroke-width="0.7" />
<path d="M1093.5,325 L1101,320.8" fill="none" stroke="#000" stroke-width="0.9" stroke-linejoin="miter" stroke-linecap="butt"/>
<path d="M1068.19,318.57 L1068.6,322.23 L1065.69,321.01 L1066.97,324.85 L1064.33,324.82 L1066.36,328.47 L1064.23,329.63 L1066.82,332.73 L1065.42,334.96 L1068.31,337.21 L1067.77,340.3 L1070.67,341.48 L1071.05,345.12 L1073.69,345.12 L1074.95,348.96 L1077.06,347.77 L1079.07,351.43 L1080.45,349.16 L1083.03,352.29 L1083.54,349.18 L1086.42,351.46 L1092.98,347.82 L1092.57,344.17 L1095.48,345.38 L1094.2,341.55 L1096.84,341.58 L1094.81,337.93 L1096.94,336.77 L1094.35,333.67 L1095.75,331.43 L1092.86,329.18 L1093.4,326.09 L1090.5,324.91 L1090.12,321.27 L1087.48,321.28 L1086.22,317.44 L1084.11,318.63 L1082.1,314.97 L1080.72,317.23 L1078.14,314.11 L1077.63,317.22 L1074.75,314.94 Z" fill="#fff" stroke="#000" stroke-width="1.1" stroke-linejoin="round"/>
<path d="M1090.09,346.16 L1095.48,345.38" stroke="#000" stroke-width="0.9" fill="none" stroke-linecap="round"/>
<path d="M1089.32,343.2 L1095.26,342.59" stroke="#000" stroke-width="0.6" fill="none" stroke-linecap="round"/>
<path d="M1090.47,341.54 L1096.84,341.58" stroke="#000" stroke-width="0.9" fill="none" stroke-linecap="round"/>
<path d="M1089.08,338.62 L1095.93,338.6" stroke="#000" stroke-width="0.6" fill="none" stroke-linecap="round"/>
<path d="M1089.56,336.27 L1096.94,336.77" stroke="#000" stroke-width="0.9" fill="none" stroke-linecap="round"/>
<path d="M1087.68,333.69 L1095.43,333.9" stroke="#000" stroke-width="0.6" fill="none" stroke-linecap="round"/>
<path d="M1087.46,330.89 L1095.75,331.43" stroke="#000" stroke-width="0.9" fill="none" stroke-linecap="round"/>
<path d="M1085.27,328.89 L1093.79,328.96" stroke="#000" stroke-width="0.6" fill="none" stroke-linecap="round"/>
<path d="M1084.35,325.91 L1093.4,326.09" stroke="#000" stroke-width="0.9" fill="none" stroke-linecap="round"/>
<path d="M1082.08,324.69 L1091.18,324.25" stroke="#000" stroke-width="0.6" fill="none" stroke-linecap="round"/>
<path d="M1080.56,321.82 L1090.12,321.27" stroke="#000" stroke-width="0.9" fill="none" stroke-linecap="round"/>
<path d="M1078.42,321.5 L1087.85,320.24" stroke="#000" stroke-width="0.6" fill="none" stroke-linecap="round"/>
<path d="M1076.45,319.02 L1086.22,317.44" stroke="#000" stroke-width="0.9" fill="none" stroke-linecap="round"/>
<path d="M1074.65,319.63 L1084.14,317.32" stroke="#000" stroke-width="0.6" fill="none" stroke-linecap="round"/>
<path d="M1072.43,317.79 L1082.1,314.97" stroke="#000" stroke-width="0.9" fill="none" stroke-linecap="round"/>
<path d="M1071.14,319.27 L1080.4,315.78" stroke="#000" stroke-width="0.6" fill="none" stroke-linecap="round"/>
<path d="M1068.88,318.24 L1078.14,314.11" stroke="#000" stroke-width="0.9" fill="none" stroke-linecap="round"/>
<path d="M1068.24,320.45 L1076.99,315.76" stroke="#000" stroke-width="0.6" fill="none" stroke-linecap="round"/>
<path d="M1068.58,319.27 L1069.85,318.75 L1071.24,318.5 L1072.74,318.53 L1074.31,318.85 L1075.94,319.44 L1077.59,320.3 L1079.24,321.42 L1080.85,322.76 L1082.4,324.32 L1083.87,326.05 L1085.22,327.94 L1086.44,329.95 L1087.5,332.05 L1088.38,334.2 L1089.08,336.36 L1089.58,338.5 L1089.86,340.58 L1089.93,342.57 L1089.79,344.42 L1089.43,346.12 L1088.86,347.62 L1088.1,348.91 L1087.15,349.96 L1086.03,350.76" stroke="#000" stroke-width="0.8" fill="none" stroke-linejoin="round" stroke-linecap="round"/>
<path d="M1071.56,352.49 L1070.68,352.86 L1069.71,353.03 L1068.67,353.01 L1067.58,352.79 L1066.45,352.37 L1065.3,351.78 L1064.16,351.0 L1063.04,350.07 L1061.96,348.99 L1060.94,347.79 L1060.0,346.47 L1059.16,345.08 L1058.42,343.62 L1057.81,342.13 L1057.32,340.62 L1056.98,339.14 L1056.78,337.69 L1056.73,336.32 L1056.83,335.03 L1057.08,333.85 L1057.47,332.81 L1058.0,331.91 L1058.66,331.18 L1059.44,330.63 L1071.68,323.84 L1072.56,323.48 L1073.53,323.3 L1074.57,323.33 L1075.67,323.55 L1076.8,323.96 L1077.94,324.56 L1079.08,325.33 L1080.2,326.26 L1081.28,327.34 L1082.3,328.55 L1083.24,329.86 L1084.08,331.26 L1084.82,332.72 L1085.44,334.21 L1085.92,335.71 L1086.26,337.2 L1086.46,338.64 L1086.51,340.02 L1086.41,341.31 L1086.16,342.48 L1085.77,343.53 L1085.24,344.42 L1084.58,345.15 L1083.8,345.71 Z" fill="#fff" stroke="#000" stroke-width="1.2" stroke-linejoin="round"/>
<path d="M1053.61,341.12 L1056.04,332.74 L1061.28,329.83 L1069.67,332.22 L1075.63,342.97 L1073.21,351.35 L1067.96,354.26 L1059.58,351.87 Z" fill="#fff" stroke="#000" stroke-width="1.2" stroke-linejoin="round"/>
<path d="M1067.96,354.26 L1070.39,345.88 L1064.42,335.13 L1056.04,332.74 L1053.61,341.12 L1059.58,351.87 Z" fill="#fff" stroke="#000" stroke-width="1.02" stroke-linejoin="round"/>
<path d="M1067.96,354.26 L1073.21,351.35" stroke="#000" stroke-width="0.8" fill="none" stroke-linecap="round"/>
<path d="M1070.39,345.88 L1075.63,342.97" stroke="#000" stroke-width="0.8" fill="none" stroke-linecap="round"/>
<path d="M1064.42,335.13 L1069.67,332.22" stroke="#000" stroke-width="0.8" fill="none" stroke-linecap="round"/>
<path d="M1056.04,332.74 L1061.28,329.83" stroke="#000" stroke-width="0.8" fill="none" stroke-linecap="round"/>
<ellipse cx="1062.17" cy="343.4" rx="3.77" ry="6.5" transform="rotate(-29 1062.17 343.4)" fill="none" stroke="#000" stroke-width="1.0" />
<path d="M1065.27,346.24 L1064.51,342.11 L1061.41,339.27 L1059.08,340.57 L1059.84,344.7 L1062.94,347.53 Z" fill="none" stroke="#000" stroke-width="0.8"/>
<path d="M1042.9,369.53 L1041.98,369.93 L1040.96,370.13 L1039.86,370.13 L1038.7,369.91 L1037.5,369.5 L1036.28,368.89 L1035.06,368.1 L1033.86,367.13 L1032.7,366.01 L1031.6,364.76 L1030.59,363.39 L1029.67,361.93 L1028.86,360.4 L1028.19,358.84 L1027.65,357.26 L1027.26,355.7 L1027.02,354.18 L1026.94,352.72 L1027.03,351.36 L1027.27,350.11 L1027.67,349.0 L1028.21,348.05 L1028.89,347.27 L1029.7,346.67 L1040.09,340.67 L1041.01,340.27 L1042.03,340.07 L1043.13,340.07 L1044.29,340.29 L1045.49,340.7 L1046.71,341.31 L1047.93,342.1 L1049.13,343.07 L1050.29,344.19 L1051.39,345.44 L1052.4,346.81 L1053.32,348.27 L1054.13,349.8 L1054.8,351.36 L1055.34,352.94 L1055.73,354.5 L1055.97,356.02 L1056.05,357.48 L1055.96,358.84 L1055.72,360.09 L1055.33,361.2 L1054.78,362.15 L1054.1,362.93 L1053.29,363.53 Z" fill="#fff" stroke="#000" stroke-width="1.3" stroke-linejoin="round"/>
<ellipse cx="1036.3" cy="358.1" rx="7.66" ry="13.2" transform="rotate(-30 1036.3 358.1)" fill="none" stroke="#000" stroke-width="1.3" />
<ellipse cx="1036.56" cy="357.95" rx="6.38" ry="11.0" transform="rotate(-30 1036.56 357.95)" fill="none" stroke="#000" stroke-width="0.8" />
<ellipse cx="1036.82" cy="357.8" rx="4.81" ry="8.3" transform="rotate(-30 1036.82 357.8)" fill="none" stroke="#000" stroke-width="1.1" />
<path d="M1040.97,364.99 L1042.22,367.15" stroke="#000" stroke-width="0.8" fill="none" stroke-linecap="round"/>
<path d="M1042.5,362.82 L1044.21,364.33" stroke="#000" stroke-width="0.8" fill="none" stroke-linecap="round"/>
<path d="M1042.51,359.31 L1044.22,359.76" stroke="#000" stroke-width="0.8" fill="none" stroke-linecap="round"/>
<path d="M1040.99,355.39 L1042.24,354.67" stroke="#000" stroke-width="0.8" fill="none" stroke-linecap="round"/>
<path d="M1038.36,352.12 L1038.82,350.41" stroke="#000" stroke-width="0.8" fill="none" stroke-linecap="round"/>
<path d="M1035.31,350.37 L1034.86,348.13" stroke="#000" stroke-width="0.8" fill="none" stroke-linecap="round"/>
<path d="M1032.67,350.61 L1031.42,348.45" stroke="#000" stroke-width="0.8" fill="none" stroke-linecap="round"/>
<path d="M1031.14,352.78 L1029.43,351.27" stroke="#000" stroke-width="0.8" fill="none" stroke-linecap="round"/>
<path d="M1031.13,356.29 L1029.42,355.84" stroke="#000" stroke-width="0.8" fill="none" stroke-linecap="round"/>
<path d="M1032.65,360.21 L1031.39,360.93" stroke="#000" stroke-width="0.8" fill="none" stroke-linecap="round"/>
<path d="M1035.28,363.48 L1034.82,365.19" stroke="#000" stroke-width="0.8" fill="none" stroke-linecap="round"/>
<path d="M1038.33,365.23 L1038.78,367.47" stroke="#000" stroke-width="0.8" fill="none" stroke-linecap="round"/>
<path d="M1032.67,350.61 L1036.69,348.44" stroke="#000" stroke-width="0.7" fill="none" stroke-linecap="round"/>
<path d="M1031.01,353.4 L1035.61,351.84" stroke="#000" stroke-width="0.7" fill="none" stroke-linecap="round"/>
<path d="M1031.57,357.87 L1036.79,356.48" stroke="#000" stroke-width="0.7" fill="none" stroke-linecap="round"/>
<path d="M1034.14,362.31 L1039.76,360.6" stroke="#000" stroke-width="0.7" fill="none" stroke-linecap="round"/>
<path d="M1037.73,365.03 L1043.4,362.62" stroke="#000" stroke-width="0.7" fill="none" stroke-linecap="round"/>
<path d="M1045.08,366.84 L1055.48,360.84" stroke="#000" stroke-width="0.9" fill="none" stroke-linecap="round"/>
<path d="M1045.52,361.52 L1055.91,355.52" stroke="#000" stroke-width="0.9" fill="none" stroke-linecap="round"/>
<path d="M1042.93,354.27 L1053.32,348.27" stroke="#000" stroke-width="0.9" fill="none" stroke-linecap="round"/>
<path d="M1037.95,348.41 L1048.34,342.41" stroke="#000" stroke-width="0.9" fill="none" stroke-linecap="round"/>
<path d="M1033.12,346.12 L1043.51,340.12" stroke="#000" stroke-width="0.9" fill="none" stroke-linecap="round"/>
<path d="M1039.48,370.08 L1041.21,369.08" stroke="#000" stroke-width="0.7" fill="none" stroke-linecap="round"/>
<path d="M1033.86,367.13 L1035.59,366.13" stroke="#000" stroke-width="0.7" fill="none" stroke-linecap="round"/>
<path d="M1027.26,355.7 L1028.99,354.7" stroke="#000" stroke-width="0.7" fill="none" stroke-linecap="round"/>
<path d="M1027.52,349.36 L1029.25,348.36" stroke="#000" stroke-width="0.7" fill="none" stroke-linecap="round"/>
<path d="M998.09,409.42 L996.24,410.14 L994.22,410.45 L992.06,410.35 L989.79,409.84 L987.46,408.93 L985.1,407.63 L982.76,405.98 L980.48,403.98 L978.29,401.69 L976.23,399.13 L974.34,396.35 L972.65,393.41 L971.18,390.35 L969.98,387.21 L969.04,384.07 L968.39,380.96 L968.05,377.95 L968.01,375.08 L968.28,372.4 L968.86,369.97 L969.72,367.81 L970.87,365.98 L972.27,364.49 L973.91,363.38 L999.41,349.99 L1001.26,349.27 L1003.28,348.96 L1005.44,349.06 L1007.71,349.57 L1010.04,350.48 L1012.39,351.78 L1014.73,353.44 L1017.02,355.43 L1019.21,357.73 L1021.27,360.28 L1023.16,363.06 L1024.85,366.0 L1026.31,369.07 L1027.52,372.2 L1028.46,375.35 L1029.11,378.45 L1029.45,381.47 L1029.49,384.33 L1029.22,387.01 L1028.64,389.44 L1027.77,391.6 L1026.63,393.43 L1025.22,394.92 L1023.59,396.03 Z" fill="#fff" stroke="#000" stroke-width="1.6" stroke-linejoin="round"/>
<ellipse cx="986.0" cy="386.4" rx="15.08" ry="26" transform="rotate(-27.7 986.0 386.4)" fill="none" stroke="#000" stroke-width="1.6" />
<ellipse cx="986.0" cy="386.4" rx="13.63" ry="23.5" transform="rotate(-27.7 986.0 386.4)" fill="none" stroke="#000" stroke-width="0.8" />
<ellipse cx="986.44" cy="386.17" rx="11.31" ry="19.5" transform="rotate(-27.7 986.44 386.17)" fill="none" stroke="#000" stroke-width="1.1" />
<ellipse cx="986.71" cy="386.03" rx="6.67" ry="11.5" transform="rotate(-27.7 986.71 386.03)" fill="none" stroke="#000" stroke-width="1.3" />
<ellipse cx="986.89" cy="385.94" rx="5.22" ry="9.0" transform="rotate(-27.7 986.89 385.94)" fill="none" stroke="#000" stroke-width="0.7" />
<path d="M975.61,369.83 L973.75,367.02" stroke="#000" stroke-width="0.8" fill="none" stroke-linecap="round"/>
<path d="M973.25,374.13 L970.98,372.06" stroke="#000" stroke-width="0.8" fill="none" stroke-linecap="round"/>
<path d="M972.81,380.18 L970.47,379.15" stroke="#000" stroke-width="0.8" fill="none" stroke-linecap="round"/>
<path d="M974.35,387.11 L972.27,387.27" stroke="#000" stroke-width="0.8" fill="none" stroke-linecap="round"/>
<path d="M977.65,393.89 L976.15,395.22" stroke="#000" stroke-width="0.8" fill="none" stroke-linecap="round"/>
<path d="M982.24,399.56 L981.52,401.86" stroke="#000" stroke-width="0.8" fill="none" stroke-linecap="round"/>
<path d="M987.44,403.27 L987.61,406.21" stroke="#000" stroke-width="0.8" fill="none" stroke-linecap="round"/>
<path d="M992.49,404.49 L993.53,407.64" stroke="#000" stroke-width="0.8" fill="none" stroke-linecap="round"/>
<path d="M981.32,359.6 L983.17,359.17 L985.17,359.1 L987.26,359.4 L989.44,360.06 L991.65,361.07 L993.88,362.43 L996.07,364.09 L998.21,366.05 L1000.26,368.27 L1002.19,370.72 L1003.96,373.35 L1005.55,376.14 L1006.94,379.03 L1008.1,381.98 L1009.02,384.96 L1009.69,387.9 L1010.08,390.77 L1010.21,393.53 L1010.06,396.13 L1009.63,398.53 L1008.94,400.69 L1008.0,402.59 L1006.81,404.19 L1005.4,405.47" stroke="#000" stroke-width="0.8" fill="none" stroke-linejoin="round" stroke-linecap="round"/>
<path d="M983.86,358.44 L985.7,358.17 L987.67,358.23 L989.72,358.64 L991.83,359.38 L993.97,360.45 L996.12,361.82 L998.23,363.49 L1000.28,365.42 L1002.24,367.59 L1004.09,369.97 L1005.79,372.52 L1007.32,375.21 L1008.66,378.0 L1009.8,380.84 L1010.71,383.71 L1011.38,386.56 L1011.8,389.34 L1011.97,392.03 L1011.89,394.57 L1011.55,396.94 L1010.96,399.1 L1010.13,401.02 L1009.07,402.67 L1007.8,404.04" stroke="#000" stroke-width="0.8" fill="none" stroke-linejoin="round" stroke-linecap="round"/>
<path d="M996.43,352.2 L998.25,352.12 L1000.17,352.35 L1002.15,352.88 L1004.17,353.72 L1006.22,354.84 L1008.25,356.24 L1010.25,357.89 L1012.18,359.78 L1014.03,361.88 L1015.77,364.16 L1017.38,366.6 L1018.83,369.16 L1020.11,371.81 L1021.21,374.52 L1022.1,377.25 L1022.78,379.96 L1023.23,382.63 L1023.46,385.21 L1023.46,387.68 L1023.22,390.0 L1022.76,392.14 L1022.07,394.07 L1021.18,395.78 L1020.08,397.23" stroke="#000" stroke-width="0.8" fill="none" stroke-linejoin="round" stroke-linecap="round"/>
<path d="M1010.33,401.22 L1020.96,395.64" stroke="#000" stroke-width="0.7" fill="none" stroke-linecap="round"/>
<path d="M1012.16,395.81 L1022.78,390.23" stroke="#000" stroke-width="0.7" fill="none" stroke-linecap="round"/>
<path d="M1012.24,389.05 L1022.86,383.47" stroke="#000" stroke-width="0.7" fill="none" stroke-linecap="round"/>
<path d="M1010.58,381.59 L1021.2,376.01" stroke="#000" stroke-width="0.7" fill="none" stroke-linecap="round"/>
<path d="M1007.33,374.18 L1017.96,368.6" stroke="#000" stroke-width="0.7" fill="none" stroke-linecap="round"/>
<path d="M1002.82,367.52 L1013.45,361.95" stroke="#000" stroke-width="0.7" fill="none" stroke-linecap="round"/>
<path d="M997.49,362.29 L1008.12,356.71" stroke="#000" stroke-width="0.7" fill="none" stroke-linecap="round"/>
<path d="M991.86,358.98 L1002.48,353.4" stroke="#000" stroke-width="0.7" fill="none" stroke-linecap="round"/>
<path d="M987.04,357.92 L997.67,352.35" stroke="#000" stroke-width="0.7" fill="none" stroke-linecap="round"/>
<path d="M979.4,345.5 L979.8,362 Q985,366 990.3,361.5 L990.1,345.5 Z" fill="#fff" stroke="#000" stroke-width="1.2"/>
<ellipse cx="984.75" cy="345.3" rx="5.35" ry="2.6" fill="#fff" stroke="#000" stroke-width="1.2"/>
<path d="M982.6,345 L982.6,337.5" fill="none" stroke="#000" stroke-width="0.8" stroke-linejoin="round" stroke-linecap="round" />
<path d="M962.83,411.62 L962.06,411.94 L961.21,412.09 L960.29,412.07 L959.33,411.88 L958.33,411.52 L957.33,410.99 L956.32,410.31 L955.33,409.49 L954.39,408.54 L953.49,407.48 L952.66,406.32 L951.92,405.09 L951.27,403.81 L950.73,402.5 L950.3,401.18 L950.0,399.87 L949.83,398.6 L949.78,397.38 L949.87,396.25 L950.09,395.21 L950.44,394.3 L950.9,393.51 L951.48,392.87 L952.17,392.38 L962.66,386.56 L963.44,386.24 L964.29,386.09 L965.2,386.11 L966.17,386.3 L967.16,386.67 L968.17,387.19 L969.18,387.87 L970.16,388.69 L971.11,389.64 L972.01,390.7 L972.83,391.86 L973.58,393.09 L974.22,394.37 L974.77,395.68 L975.19,397.01 L975.49,398.31 L975.67,399.59 L975.71,400.8 L975.62,401.93 L975.4,402.97 L975.06,403.89 L974.59,404.67 L974.01,405.32 L973.33,405.8 Z" fill="#fff" stroke="#000" stroke-width="1.4" stroke-linejoin="round"/>
<ellipse cx="957.5" cy="402.0" rx="6.38" ry="11" transform="rotate(-29 957.5 402.0)" fill="none" stroke="#000" stroke-width="1.4" />
<ellipse cx="957.76" cy="401.85" rx="4.06" ry="7.0" transform="rotate(-29 957.76 401.85)" fill="none" stroke="#000" stroke-width="1.1" />
<ellipse cx="957.94" cy="401.76" rx="2.9" ry="5.0" transform="rotate(-29 957.94 401.76)" fill="none" stroke="#000" stroke-width="0.7" />
<path d="M954.79,398.13 L953.53,396.68" stroke="#000" stroke-width="0.6" fill="none" stroke-linecap="round"/>
<path d="M954.44,400.02 L953.04,399.33" stroke="#000" stroke-width="0.6" fill="none" stroke-linecap="round"/>
<path d="M955.02,402.38 L953.85,402.63" stroke="#000" stroke-width="0.6" fill="none" stroke-linecap="round"/>
<path d="M956.38,404.57 L955.76,405.7" stroke="#000" stroke-width="0.6" fill="none" stroke-linecap="round"/>
<path d="M958.16,406.01 L958.25,407.71" stroke="#000" stroke-width="0.6" fill="none" stroke-linecap="round"/>
<path d="M959.88,406.31 L960.66,408.13" stroke="#000" stroke-width="0.6" fill="none" stroke-linecap="round"/>
<path d="M961.08,405.39 L962.34,406.84" stroke="#000" stroke-width="0.6" fill="none" stroke-linecap="round"/>
<path d="M972.7,395.4 L984.7,388.8" fill="none" stroke="#000" stroke-width="0.9" stroke-linejoin="miter" stroke-linecap="butt"/>
<path d="M956.8,424.5 L951.2,431 L951.6,446.2 L953.3,446 L953,431.8 L957.8,426.2" fill="#fff" stroke="#000" stroke-width="0.9" stroke-linejoin="round" stroke-linecap="round" />
<path d="M958.8,426.5 L958.9,443.2 L960.6,443 L960.5,426.5" fill="#fff" stroke="#000" stroke-width="0.9" stroke-linejoin="round" stroke-linecap="round" />
<ellipse cx="960.6" cy="420.6" rx="4.3" ry="5.3" fill="#fff" stroke="#000" stroke-width="1.1" transform="rotate(25 960.6 420.6)"/>
<ellipse cx="960.8" cy="420.6" rx="2.2" ry="3.2" fill="none" stroke="#000" stroke-width="0.9" transform="rotate(25 960.8 420.6)"/>
<path d="M898.1,417.4 L906.8,412.3 L913.2,415.5 L914.3,426 Q917,432.5 921.5,432 L925.5,431 L927.2,432.5 L927.3,446.1 L925,447.5 Q917,449 909,444.5 Q901,439 899,430 Z" fill="#fff" stroke="#000" stroke-width="1.2" stroke-linejoin="round"/>
<path d="M900.5,419 L908,415 L911,417.5 Q911.5,428 915,433 Q918,437 924,436.5" fill="none" stroke="#000" stroke-width="0.7" stroke-linejoin="round" stroke-linecap="round" />
<path d="M904,419.5 L905,432 M907,418 L908,430" fill="none" stroke="#000" stroke-width="0.6" stroke-linejoin="round" stroke-linecap="round" />
<path d="M902.5,436.5 Q910,445 920,444" fill="none" stroke="#000" stroke-width="0.6" stroke-linejoin="round" stroke-linecap="round" />
<path d="M936.7,411.5 L946.1,407.2 Q950,406.5 952.4,412.5 Q952.5,417.5 949.3,420.2 L942.2,432 L946.1,435.1 L946.1,445.4 L929.6,451.6 L927.3,446.1 L927.2,433 L922.5,431.2 L924,428.5 L929.6,424.9 L935.1,421 Z" fill="#fff" stroke="#000" stroke-width="1.2" stroke-linejoin="round"/>
<ellipse cx="947.2" cy="414.5" rx="3.0" ry="3.3" fill="none" stroke="#000" stroke-width="1.0"/>
<path d="M929.6,424.9 L933,436 L929.6,446 M933,436 L937.5,430 M937.6,445.5 L937.5,436 L941.5,435.5 L941.5,444" fill="none" stroke="#000" stroke-width="0.7" stroke-linejoin="round" stroke-linecap="round" />
<path d="M939.5,439.5 L945,437 M939.5,447.5 L944.5,445" fill="none" stroke="#000" stroke-width="0.7" stroke-linejoin="round" stroke-linecap="round" />
<path d="M901.3,437.5 L930.4,420.2" fill="none" stroke="#000" stroke-width="0.9" stroke-linejoin="miter" stroke-linecap="butt"/>
<path d="M896.61,457.8 L895.46,458.26 L894.2,458.46 L892.85,458.4 L891.44,458.09 L889.98,457.53 L888.51,456.73 L887.05,455.71 L885.62,454.47 L884.25,453.05 L882.95,451.46 L881.77,449.74 L880.7,447.91 L879.78,446.01 L879.02,444.06 L878.42,442.1 L878.01,440.17 L877.79,438.29 L877.76,436.5 L877.92,434.84 L878.27,433.32 L878.8,431.97 L879.51,430.83 L880.38,429.89 L881.39,429.2 L884.48,427.55 L885.63,427.1 L886.89,426.9 L888.24,426.95 L889.65,427.26 L891.11,427.82 L892.58,428.62 L894.04,429.65 L895.47,430.88 L896.84,432.31 L898.14,433.89 L899.32,435.62 L900.39,437.45 L901.31,439.35 L902.07,441.3 L902.67,443.26 L903.08,445.19 L903.3,447.06 L903.33,448.85 L903.17,450.52 L902.82,452.04 L902.29,453.38 L901.58,454.53 L900.71,455.46 L899.7,456.16 Z" fill="#fff" stroke="#000" stroke-width="1.4" stroke-linejoin="round"/>
<ellipse cx="889.0" cy="443.5" rx="9.4" ry="16.2" transform="rotate(-28 889.0 443.5)" fill="none" stroke="#000" stroke-width="1.4" />
<ellipse cx="889.18" cy="443.41" rx="7.89" ry="13.6" transform="rotate(-28 889.18 443.41)" fill="none" stroke="#000" stroke-width="0.7" />
<ellipse cx="889.18" cy="443.41" rx="5.51" ry="9.5" transform="rotate(-28 889.18 443.41)" fill="none" stroke="#000" stroke-width="0.7" />
<ellipse cx="889.18" cy="443.41" rx="3.48" ry="6.0" transform="rotate(-28 889.18 443.41)" fill="none" stroke="#000" stroke-width="0.9" />
<ellipse cx="889.18" cy="443.41" rx="2.32" ry="4.0" transform="rotate(-28 889.18 443.41)" fill="none" stroke="#000" stroke-width="0.7" />
<path d="M856.29,468.63 L855.97,468.76 L855.61,468.82 L855.23,468.81 L854.83,468.73 L854.41,468.58 L853.99,468.35 L853.57,468.07 L853.16,467.72 L852.77,467.32 L852.39,466.88 L852.05,466.4 L851.74,465.88 L851.47,465.34 L851.25,464.79 L851.07,464.24 L850.95,463.69 L850.87,463.16 L850.86,462.65 L850.9,462.18 L850.99,461.75 L851.14,461.36 L851.33,461.03 L851.58,460.77 L851.86,460.56 L871.14,449.97 L871.47,449.83 L871.82,449.77 L872.2,449.78 L872.61,449.86 L873.02,450.02 L873.44,450.24 L873.86,450.52 L874.27,450.87 L874.67,451.27 L875.04,451.71 L875.39,452.2 L875.7,452.71 L875.96,453.25 L876.19,453.8 L876.37,454.35 L876.49,454.9 L876.56,455.43 L876.58,455.94 L876.54,456.41 L876.45,456.84 L876.3,457.23 L876.1,457.56 L875.86,457.82 L875.57,458.03 Z" fill="#fff" stroke="#000" stroke-width="1.2" stroke-linejoin="round"/>
<path d="M834.33,482.64 L833.89,482.82 L833.4,482.91 L832.87,482.89 L832.32,482.78 L831.75,482.57 L831.18,482.27 L830.6,481.88 L830.04,481.41 L829.5,480.86 L828.99,480.25 L828.52,479.59 L828.09,478.88 L827.72,478.15 L827.42,477.39 L827.17,476.63 L827.0,475.88 L826.91,475.16 L826.88,474.46 L826.94,473.81 L827.06,473.22 L827.27,472.69 L827.53,472.24 L827.87,471.88 L828.26,471.6 L852.8,458.11 L853.24,457.93 L853.73,457.84 L854.25,457.86 L854.8,457.97 L855.37,458.18 L855.95,458.48 L856.52,458.87 L857.09,459.35 L857.63,459.89 L858.14,460.5 L858.61,461.17 L859.03,461.87 L859.4,462.61 L859.71,463.36 L859.95,464.12 L860.12,464.87 L860.22,465.6 L860.24,466.29 L860.19,466.94 L860.06,467.53 L859.86,468.06 L859.59,468.51 L859.26,468.88 L858.87,469.15 Z" fill="#fff" stroke="#000" stroke-width="1.2" stroke-linejoin="round"/>
<path d="M851.04,459.07 L850.2,459.89 L849.74,461.16 L849.7,462.77 L850.1,464.56 L850.88,466.36 L851.97,467.97 L853.27,469.26 L854.65,470.1 L855.98,470.39 L857.11,470.12" stroke="#000" stroke-width="0.8" fill="none" stroke-linejoin="round" stroke-linecap="round"/>
<path d="M851.6,472.18 L856.86,469.29" stroke="#000" stroke-width="0.7" fill="none" stroke-linecap="round"/>
<path d="M846.19,463.42 L851.45,460.53" stroke="#000" stroke-width="0.7" fill="none" stroke-linecap="round"/>
<path d="M816.73,475.54 L816.72,477.97 L815.0,478.33 L816.2,480.99 L815.47,482.86 L817.42,484.75 L817.97,487.41 L819.93,487.79 L821.54,490.24 L822.77,488.97 L824.83,490.26 L834.46,484.96 L834.48,482.53 L836.2,482.18 L835.0,479.51 L835.73,477.64 L833.77,475.76 L833.23,473.1 L831.26,472.71 L829.65,470.27 L828.43,471.53 L826.37,470.24 Z" fill="#fff" stroke="#000" stroke-width="1.2" stroke-linejoin="round"/>
<path d="M824.84,487.83 L834.48,482.53" stroke="#000" stroke-width="0.8" fill="none" stroke-linecap="round"/>
<path d="M825.36,484.81 L835.0,479.51" stroke="#000" stroke-width="0.8" fill="none" stroke-linecap="round"/>
<path d="M824.13,481.06 L833.77,475.76" stroke="#000" stroke-width="0.8" fill="none" stroke-linecap="round"/>
<path d="M821.62,478.01 L831.26,472.71" stroke="#000" stroke-width="0.8" fill="none" stroke-linecap="round"/>
<path d="M818.79,476.83 L828.43,471.53" stroke="#000" stroke-width="0.8" fill="none" stroke-linecap="round"/>
<path d="M824.83,490.26 L824.84,487.83 L826.56,487.48 L825.36,484.81 L826.09,482.94 L824.13,481.06 L823.59,478.39 L821.62,478.01 L820.01,475.57 L818.79,476.83 L816.73,475.54" stroke="#000" stroke-width="0.8" fill="none" stroke-linejoin="round" stroke-linecap="round"/>
<path d="M804.1,498.23 L803.72,498.39 L803.3,498.46 L802.85,498.45 L802.38,498.35 L801.89,498.17 L801.4,497.91 L800.91,497.58 L800.42,497.17 L799.96,496.7 L799.52,496.18 L799.12,495.61 L798.76,495.01 L798.44,494.38 L798.18,493.73 L797.97,493.08 L797.82,492.44 L797.74,491.82 L797.72,491.22 L797.77,490.66 L797.87,490.16 L798.05,489.71 L798.28,489.32 L798.56,489.01 L798.9,488.77 L818.18,478.17 L818.56,478.01 L818.98,477.94 L819.43,477.95 L819.9,478.05 L820.39,478.23 L820.88,478.49 L821.37,478.82 L821.85,479.23 L822.32,479.7 L822.76,480.22 L823.16,480.79 L823.52,481.39 L823.84,482.02 L824.1,482.67 L824.31,483.32 L824.46,483.96 L824.54,484.59 L824.56,485.18 L824.51,485.74 L824.4,486.25 L824.23,486.7 L824.0,487.08 L823.72,487.4 L823.38,487.63 Z" fill="#fff" stroke="#000" stroke-width="1.3" stroke-linejoin="round"/>
<ellipse cx="801.5" cy="493.5" rx="3.13" ry="5.4" transform="rotate(-28.8 801.5 493.5)" fill="none" stroke="#000" stroke-width="1.3" />
<path d="M876,451 L889,443.5" fill="none" stroke="#000" stroke-width="0.9" stroke-linejoin="miter" stroke-linecap="butt"/>
<text x="53.5" y="59.2" font-size="11" font-weight="normal" textLength="68.5" lengthAdjust="spacingAndGlyphs">0 611 226 703</text>
<text x="54.5" y="73.7" font-size="10.5" font-weight="normal" textLength="24.5" lengthAdjust="spacingAndGlyphs">Issue</text>
<text x="52.8" y="85.4" font-size="10.5" font-weight="normal" textLength="27.8" lengthAdjust="spacingAndGlyphs">Stand</text>
<path d="M82.5,65.5 Q85,65.5 85,68 L85,73.5 Q85,75.8 87,75.8 Q85,75.8 85,78 L85,83.5 Q85,86 82.5,86" fill="none" stroke="#000" stroke-width="0.9" stroke-linejoin="round" stroke-linecap="round" />
<text x="89.7" y="79.7" font-size="11" font-weight="normal" textLength="42.3" lengthAdjust="spacingAndGlyphs">06-09-25</text>
<rect x="139.3" y="65.7" width="90.7" height="20.5" fill="#000"/>
<text x="142.4" y="82" font-size="16.9" font-weight="bold" fill="#fff" textLength="83.4" lengthAdjust="spacingAndGlyphs">Fig./Abb. 2</text>
<text x="305.4" y="83.0" font-size="10" font-weight="bold" textLength="88.3" lengthAdjust="spacingAndGlyphs">Neue Ausführung</text>
<text x="305.4" y="95.0" font-size="10" font-weight="bold" textLength="74.0" lengthAdjust="spacingAndGlyphs">New execution</text>
<text x="305.4" y="107.0" font-size="10" font-weight="bold" textLength="96.0" lengthAdjust="spacingAndGlyphs">Nouvelle exécution</text>
<text x="305.4" y="118.8" font-size="10" font-weight="bold" textLength="83.0" lengthAdjust="spacingAndGlyphs">Nueva ejecución</text>
<text x="577" y="83.0" font-size="10" font-weight="bold" textLength="82.5" lengthAdjust="spacingAndGlyphs">Alte Ausführung</text>
<text x="577" y="95.0" font-size="10" font-weight="bold" textLength="69.5" lengthAdjust="spacingAndGlyphs">Old execution</text>
<text x="577" y="107.0" font-size="10" font-weight="bold" textLength="87.2" lengthAdjust="spacingAndGlyphs">Ancien exécution</text>
<text x="577" y="118.8" font-size="10" font-weight="bold" textLength="75.5" lengthAdjust="spacingAndGlyphs">Vieja ejecución</text>
<text x="810.2" y="83.0" font-size="10" font-weight="bold" textLength="88.3" lengthAdjust="spacingAndGlyphs">Neue Ausführung</text>
<text x="810.2" y="95.0" font-size="10" font-weight="bold" textLength="74.0" lengthAdjust="spacingAndGlyphs">New execution</text>
<text x="810.2" y="107.0" font-size="10" font-weight="bold" textLength="96.0" lengthAdjust="spacingAndGlyphs">Nouvelle exécution</text>
<text x="810.2" y="118.8" font-size="10" font-weight="bold" textLength="83.0" lengthAdjust="spacingAndGlyphs">Nueva ejecución</text>
<text x="964.3" y="83.0" font-size="10" font-weight="bold" textLength="82.5" lengthAdjust="spacingAndGlyphs">Alte Ausführung</text>
<text x="964.3" y="95.0" font-size="10" font-weight="bold" textLength="69.5" lengthAdjust="spacingAndGlyphs">Old execution</text>
<text x="964.3" y="107.0" font-size="10" font-weight="bold" textLength="87.2" lengthAdjust="spacingAndGlyphs">Ancien exécution</text>
<text x="964.3" y="118.8" font-size="10" font-weight="bold" textLength="75.5" lengthAdjust="spacingAndGlyphs">Vieja ejecución</text>
<text x="810.2" y="338.6" font-size="10" font-weight="bold" textLength="88.3" lengthAdjust="spacingAndGlyphs">Neue Ausführung</text>
<text x="810.2" y="350.6" font-size="10" font-weight="bold" textLength="74.0" lengthAdjust="spacingAndGlyphs">New execution</text>
<text x="810.2" y="362.6" font-size="10" font-weight="bold" textLength="96.0" lengthAdjust="spacingAndGlyphs">Nouvelle exécution</text>
<text x="810.2" y="374.40000000000003" font-size="10" font-weight="bold" textLength="83.0" lengthAdjust="spacingAndGlyphs">Nueva ejecución</text>
<text x="998.6" y="747.4" font-size="10.5" font-weight="normal" textLength="116.5" lengthAdjust="spacingAndGlyphs">Änderungen vorbehalten</text>
<text x="998.6" y="758.9499999999999" font-size="10.5" font-weight="normal" textLength="107" lengthAdjust="spacingAndGlyphs">Modifications reserved</text>
<text x="998.6" y="770.4999999999999" font-size="10.5" font-weight="normal" textLength="111.5" lengthAdjust="spacingAndGlyphs">Modifications resérvées</text>
<text x="998.6" y="782.0499999999998" font-size="10.5" font-weight="normal" textLength="100" lengthAdjust="spacingAndGlyphs">Salvo modificaciones</text>
<text x="128.0" y="213.5" font-size="13.3" font-weight="bold" textLength="20.3" lengthAdjust="spacingAndGlyphs">700</text>
<text x="53.5" y="298" font-size="13.3" font-weight="bold" textLength="38.55" lengthAdjust="spacingAndGlyphs">700/20</text>
<text x="96.0" y="350.5" font-size="13.3" font-weight="bold" textLength="47.3" lengthAdjust="spacingAndGlyphs">701/ 700</text>
<text x="53.0" y="359.5" font-size="13.3" font-weight="bold" textLength="19.8" lengthAdjust="spacingAndGlyphs">701</text>
<text x="123.35" y="425.4" font-size="13.3" font-weight="bold" textLength="19.45" lengthAdjust="spacingAndGlyphs">711</text>
<text x="140.8" y="458.8" font-size="13.3" font-weight="bold" textLength="48.699999999999996" lengthAdjust="spacingAndGlyphs">711/10/2</text>
<text x="100.6" y="661.6" font-size="13.3" font-weight="bold" textLength="21.0" lengthAdjust="spacingAndGlyphs">755</text>
<text x="338.5" y="574.25" font-size="13.3" font-weight="bold" textLength="20.55" lengthAdjust="spacingAndGlyphs">750</text>
<text x="410.5" y="138.3" font-size="13.3" font-weight="bold" textLength="45.3" lengthAdjust="spacingAndGlyphs">822/124</text>
<text x="410.5" y="191.25" font-size="13.3" font-weight="bold" textLength="45.3" lengthAdjust="spacingAndGlyphs">822/125</text>
<text x="484.5" y="207.5" font-size="13.3" font-weight="bold" textLength="20.8" lengthAdjust="spacingAndGlyphs">822</text>
<text x="410.5" y="252" font-size="13.3" font-weight="bold" textLength="45.3" lengthAdjust="spacingAndGlyphs">822/802</text>
<text x="289.0" y="296.25" font-size="13.3" font-weight="bold" textLength="20.8" lengthAdjust="spacingAndGlyphs">879</text>
<text x="410.5" y="373.25" font-size="13.3" font-weight="bold" textLength="45.3" lengthAdjust="spacingAndGlyphs">822/120</text>
<text x="412.5" y="318" font-size="11" font-weight="normal" textLength="14.8" lengthAdjust="spacingAndGlyphs">M8</text>
<text x="305.75" y="173" font-size="11" font-weight="normal" textLength="38.05" lengthAdjust="spacingAndGlyphs">Ø43mm</text>
<text x="692.0" y="138.75" font-size="13.3" font-weight="bold" textLength="20.3" lengthAdjust="spacingAndGlyphs">123</text>
<text x="692.0" y="196.25" font-size="13.3" font-weight="bold" textLength="20.3" lengthAdjust="spacingAndGlyphs">122</text>
<text x="739.5" y="208" font-size="13.3" font-weight="bold" textLength="21.55" lengthAdjust="spacingAndGlyphs">822</text>
<text x="692.2" y="251.6" font-size="13.3" font-weight="bold" textLength="19.3" lengthAdjust="spacingAndGlyphs">121</text>
<text x="564.5" y="295.5" font-size="13.3" font-weight="bold" textLength="20.8" lengthAdjust="spacingAndGlyphs">879</text>
<text x="694.5" y="316.75" font-size="11" font-weight="normal" textLength="14.3" lengthAdjust="spacingAndGlyphs">M8</text>
<text x="692.0" y="372.5" font-size="13.3" font-weight="bold" textLength="20.3" lengthAdjust="spacingAndGlyphs">120</text>
<text x="587" y="173" font-size="11" font-weight="normal" textLength="37.55" lengthAdjust="spacingAndGlyphs">Ø43mm</text>
<text x="843.25" y="143.25" font-size="13.3" font-weight="bold" textLength="20.05" lengthAdjust="spacingAndGlyphs">847</text>
<text x="1037.0" y="418" font-size="13.3" font-weight="bold" textLength="14.05" lengthAdjust="spacingAndGlyphs">64</text>
<text x="972.75" y="455" font-size="13.3" font-weight="bold" textLength="14.3" lengthAdjust="spacingAndGlyphs">62</text>
<text x="949.5" y="468.25" font-size="13.3" font-weight="bold" textLength="13.8" lengthAdjust="spacingAndGlyphs">45</text>
<text x="987.0" y="493.75" font-size="13.3" font-weight="bold" textLength="20.8" lengthAdjust="spacingAndGlyphs">830</text>
<text x="1100.5" y="376.25" font-size="13.3" font-weight="bold" textLength="14.05" lengthAdjust="spacingAndGlyphs">63</text>
<text x="1086.25" y="433.75" font-size="13.3" font-weight="bold" textLength="21.3" lengthAdjust="spacingAndGlyphs">823</text>
<text x="882.0" y="506.25" font-size="13.3" font-weight="bold" textLength="14.3" lengthAdjust="spacingAndGlyphs">67</text>
<text x="937.5" y="513" font-size="13.3" font-weight="bold" textLength="14.05" lengthAdjust="spacingAndGlyphs">44</text>
<text x="915.8" y="563.6" font-size="13.3" font-weight="bold" textLength="13.8" lengthAdjust="spacingAndGlyphs">24</text>
<text x="995.25" y="560" font-size="13.3" font-weight="bold" textLength="21.3" lengthAdjust="spacingAndGlyphs">826</text>
<text x="694.5" y="272.0" font-size="11.4" font-weight="normal" textLength="69.5" lengthAdjust="spacingAndGlyphs" transform="rotate(-30 694.5 272.0)">1 618 040 048</text>
<text x="1016.5" y="476.5" font-size="11.5" font-weight="normal" textLength="80.5" lengthAdjust="spacingAndGlyphs" transform="rotate(-30 1016.5 476.5)">1 616 328 042</text>
<text x="845.5" y="607.5" font-size="11.5" font-weight="normal" textLength="80.5" lengthAdjust="spacingAndGlyphs" transform="rotate(-30 845.5 607.5)">1 617 000 518</text>
<text x="980" y="598.5" font-size="11.5" font-weight="normal" textLength="80.5" lengthAdjust="spacingAndGlyphs" transform="rotate(-30 980 598.5)">1 617 000 517</text>
<path d="M72.25,282.5 L72.25,267.5 L206.5,190.5 L206.5,234.5" fill="none" stroke="#000" stroke-width="1.8" stroke-linejoin="miter" stroke-linecap="butt"/>
<path d="M138,217.5 L138,229.5" fill="none" stroke="#000" stroke-width="1.8" stroke-linejoin="miter" stroke-linecap="butt"/>
<path d="M72.25,302.5 L72.25,315" fill="none" stroke="#000" stroke-width="1.8" stroke-linejoin="miter" stroke-linecap="butt"/>
<path d="M78,353.75 L86.25,350" fill="none" stroke="#000" stroke-width="1.8" stroke-linejoin="miter" stroke-linecap="butt"/>
<path d="M111.25,318.25 L86.25,330 L86.25,371.25 L117,353.75" fill="none" stroke="#000" stroke-width="1.8" stroke-linejoin="miter" stroke-linecap="butt"/>
<path d="M146.25,337.5 L158.75,330" fill="none" stroke="#000" stroke-width="1.0" stroke-linejoin="miter" stroke-linecap="butt"/>
<path d="M72.3,590 L72.3,477.5 L208.6,401.2 L208.6,459.3" fill="none" stroke="#000" stroke-width="1.8" stroke-linejoin="miter" stroke-linecap="butt"/>
<path d="M133.5,428.6 L133.5,441.5" fill="none" stroke="#000" stroke-width="1.8" stroke-linejoin="miter" stroke-linecap="butt"/>
<path d="M167.9,424.2 L167.9,444.8" fill="none" stroke="#000" stroke-width="1.8" stroke-linejoin="miter" stroke-linecap="butt"/>
<path d="M167.9,464.2 L167.9,484.7" fill="none" stroke="#000" stroke-width="1.0" stroke-linejoin="miter" stroke-linecap="butt"/>
<path d="M72.3,512.6 L81.5,507.70000000000005" fill="none" stroke="#000" stroke-width="1.8" stroke-linejoin="miter" stroke-linecap="butt"/>
<path d="M72.3,551.3 L81.5,546.4" fill="none" stroke="#000" stroke-width="1.8" stroke-linejoin="miter" stroke-linecap="butt"/>
<path d="M72.3,588.9 L81.5,584.0" fill="none" stroke="#000" stroke-width="1.8" stroke-linejoin="miter" stroke-linecap="butt"/>
<path d="M138.4,477 L146.9,472.6 L146.9,551.3 L137.2,555.5" fill="none" stroke="#000" stroke-width="1.0" stroke-linejoin="miter" stroke-linecap="butt"/>
<path d="M113.3,664.2 L113.3,684.2" fill="none" stroke="#000" stroke-width="1.0" stroke-linejoin="miter" stroke-linecap="butt"/>
<path d="M348.4,580.7 L348.4,603.8" fill="none" stroke="#000" stroke-width="1.0" stroke-linejoin="miter" stroke-linecap="butt"/>
<path d="M458,128.1 L469.8,121.8 L469.8,356.25 L458,362.5" fill="none" stroke="#000" stroke-width="1.8" stroke-linejoin="miter" stroke-linecap="butt"/>
<path d="M457.5,179.5 L469.8,173.3" fill="none" stroke="#000" stroke-width="1.8" stroke-linejoin="miter" stroke-linecap="butt"/>
<path d="M457.5,241.5 L469.8,235.2" fill="none" stroke="#000" stroke-width="1.8" stroke-linejoin="miter" stroke-linecap="butt"/>
<path d="M470.5,210.75 L482.5,205" fill="none" stroke="#000" stroke-width="1.8" stroke-linejoin="miter" stroke-linecap="butt"/>
<path d="M374.5,160.75 L410,141.25" fill="none" stroke="#000" stroke-width="1.0" stroke-linejoin="miter" stroke-linecap="butt"/>
<path d="M358.75,223.75 L410,195" fill="none" stroke="#000" stroke-width="1.0" stroke-linejoin="miter" stroke-linecap="butt"/>
<path d="M398.75,260 L410,253.75" fill="none" stroke="#000" stroke-width="1.0" stroke-linejoin="miter" stroke-linecap="butt"/>
<path d="M299.6,299.5 L299.6,317.5" fill="none" stroke="#000" stroke-width="1.1" stroke-linejoin="miter" stroke-linecap="butt"/>
<path d="M350,348.75 L409.5,314.5" fill="none" stroke="#000" stroke-width="1.0" stroke-linejoin="miter" stroke-linecap="butt"/>
<path d="M371.25,398 L410,376.25" fill="none" stroke="#000" stroke-width="1.0" stroke-linejoin="miter" stroke-linecap="butt"/>
<path d="M713.75,127 L724.7,121.5 L724.7,242.5" fill="none" stroke="#000" stroke-width="1.8" stroke-linejoin="miter" stroke-linecap="butt"/>
<path d="M724.7,261.3 L724.7,357 L714.25,362.5" fill="none" stroke="#000" stroke-width="1.8" stroke-linejoin="miter" stroke-linecap="butt"/>
<path d="M713.75,185 L724.7,179.3" fill="none" stroke="#000" stroke-width="1.8" stroke-linejoin="miter" stroke-linecap="butt"/>
<path d="M713.1,239.7 L724.7,233.6" fill="none" stroke="#000" stroke-width="1.8" stroke-linejoin="miter" stroke-linecap="butt"/>
<path d="M726.25,212 L737.5,205.75" fill="none" stroke="#000" stroke-width="1.8" stroke-linejoin="miter" stroke-linecap="butt"/>
<path d="M657,160.5 L691.25,140.5" fill="none" stroke="#000" stroke-width="1.0" stroke-linejoin="miter" stroke-linecap="butt"/>
<path d="M640,223.75 L691.25,195" fill="none" stroke="#000" stroke-width="1.0" stroke-linejoin="miter" stroke-linecap="butt"/>
<path d="M682.5,255 L691.25,251.25" fill="none" stroke="#000" stroke-width="1.0" stroke-linejoin="miter" stroke-linecap="butt"/>
<path d="M575.0,299.5 L575.0,317.5" fill="none" stroke="#000" stroke-width="1.1" stroke-linejoin="miter" stroke-linecap="butt"/>
<path d="M632.5,348.75 L691.25,315" fill="none" stroke="#000" stroke-width="1.0" stroke-linejoin="miter" stroke-linecap="butt"/>
<path d="M653,398 L691.25,377" fill="none" stroke="#000" stroke-width="1.0" stroke-linejoin="miter" stroke-linecap="butt"/>
<path d="M830.75,182.5 L830.75,169.5 L880.5,142 L880.5,154.5" fill="none" stroke="#000" stroke-width="1.8" stroke-linejoin="miter" stroke-linecap="butt"/>
<path d="M854.25,146.25 L854.25,157" fill="none" stroke="#000" stroke-width="1.8" stroke-linejoin="miter" stroke-linecap="butt"/>
<path d="M1044.25,373.75 L1044.25,406.25" fill="none" stroke="#000" stroke-width="1.0" stroke-linejoin="miter" stroke-linecap="butt"/>
<path d="M972.5,411.75 L979.75,416.25 L979.75,442.5" fill="none" stroke="#000" stroke-width="1.0" stroke-linejoin="miter" stroke-linecap="butt"/>
<path d="M979.75,458 L979.75,469 L1007.75,453.75 L1007.75,409.5" fill="none" stroke="#000" stroke-width="1.8" stroke-linejoin="miter" stroke-linecap="butt"/>
<path d="M995.5,462.5 L995.5,482.5" fill="none" stroke="#000" stroke-width="1.8" stroke-linejoin="miter" stroke-linecap="butt"/>
<path d="M1108,327.5 L1108,363.75" fill="none" stroke="#000" stroke-width="1.0" stroke-linejoin="miter" stroke-linecap="butt"/>
<path d="M1108,381.25 L1108,395 L1076,412.5 L1076,355.5" fill="none" stroke="#000" stroke-width="1.8" stroke-linejoin="miter" stroke-linecap="butt"/>
<path d="M1096.75,402.5 L1096.75,420" fill="none" stroke="#000" stroke-width="1.8" stroke-linejoin="miter" stroke-linecap="butt"/>
<path d="M1096.75,437.5 L1096.75,481.25 L922.9,581.5 L922.9,567" fill="none" stroke="#000" stroke-width="1.8" stroke-linejoin="miter" stroke-linecap="butt"/>
<path d="M1005.5,533 L1005.5,544.5" fill="none" stroke="#000" stroke-width="1.8" stroke-linejoin="miter" stroke-linecap="butt"/>
<path d="M922.5,540 L922.5,551.1" fill="none" stroke="#000" stroke-width="1.8" stroke-linejoin="miter" stroke-linecap="butt"/>
<path d="M875.5,530.5 L875.5,566.5 L945,526.5 L945,516.25" fill="none" stroke="#000" stroke-width="1.8" stroke-linejoin="miter" stroke-linecap="butt"/>
<path d="M856.25,473.75 L856.25,540 L889.5,520.5 L889.5,510" fill="none" stroke="#000" stroke-width="1.8" stroke-linejoin="miter" stroke-linecap="butt"/>
<path d="M889.5,461.25 L889.5,493.75" fill="none" stroke="#000" stroke-width="1.0" stroke-linejoin="miter" stroke-linecap="butt"/>
<path d="M928.75,455 L928.75,498.75 L957,483 L957,470" fill="none" stroke="#000" stroke-width="1.8" stroke-linejoin="miter" stroke-linecap="butt"/>
<path d="M945,489.5 L945,501.25" fill="none" stroke="#000" stroke-width="1.8" stroke-linejoin="miter" stroke-linecap="butt"/>
<path d="M956.2,446 L956.2,457" fill="none" stroke="#000" stroke-width="1.0" stroke-linejoin="miter" stroke-linecap="butt"/>
</svg></body></html>
